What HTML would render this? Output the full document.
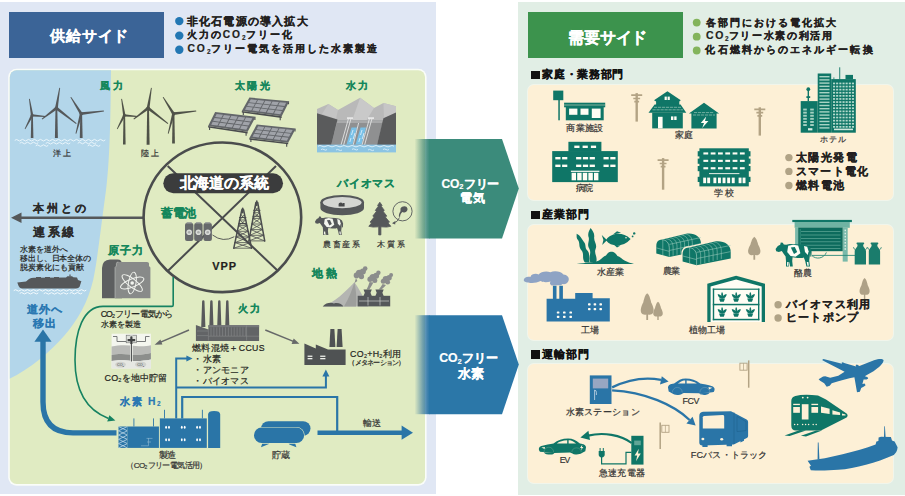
<!DOCTYPE html>
<html lang="ja">
<head>
<meta charset="utf-8">
<title>北海道の系統 供給サイド・需要サイド</title>
<style>
html,body{margin:0;padding:0;}
body{width:905px;height:496px;position:relative;overflow:hidden;background:#fff;font-family:"Liberation Sans",sans-serif;color:#231f20;}
.abs{position:absolute;}
#supplyOuter{left:0;top:2px;width:435.5px;height:491.5px;background:#e0e7f4;}
#demandOuter{left:518px;top:2px;width:387px;height:492.5px;background:#e1eee5;}
#supplyHead{left:8.5px;top:12px;width:155.5px;height:46.4px;background:#3b6497;}
#demandHead{left:528.3px;top:12px;width:155.2px;height:46.2px;background:#3c934d;}
.cream{left:528.4px;width:365px;background:#fdf0d6;border-radius:6px;box-shadow:0 0 0 1px rgba(255,252,240,0.55);}
.sq{position:absolute;left:530.9px;width:8.8px;height:8.8px;background:#111;}
.t{position:absolute;white-space:nowrap;margin:0;padding:0;}
.s2{font-size:0.62em;-webkit-text-stroke-width:0.15px;position:relative;top:0.18em;letter-spacing:0;margin-right:0.04em;}
svg{position:absolute;left:0;top:0;}
</style>
</head>
<body>
<div class="abs" id="supplyOuter"></div>
<div class="abs" id="demandOuter"></div>
<div class="abs" id="supplyHead"></div>
<div class="abs" id="demandHead"></div>
<div class="abs cream" style="top:85.4px;height:114.5px;"></div>
<div class="abs cream" style="top:225.3px;height:114.5px;"></div>
<div class="abs cream" style="top:363.8px;height:119px;"></div>
<div class="sq" style="top:70.5px;"></div>
<div class="sq" style="top:210.5px;"></div>
<div class="sq" style="top:350px;"></div>
<svg id="art" width="905" height="496" viewBox="0 0 905 496">
<defs>
<clipPath id="landClip"><rect x="9.8" y="70.3" width="415.2" height="413.8" rx="6.8" ry="6.8"/></clipPath>
<linearGradient id="shG" x1="0" x2="1" y1="0" y2="0"><stop offset="0" stop-color="#3f8575" stop-opacity="0"/><stop offset="0.55" stop-color="#3a8374" stop-opacity="0.6"/><stop offset="1" stop-color="#3b8b7b" stop-opacity="1"/></linearGradient>
<linearGradient id="shB" x1="0" x2="1" y1="0" y2="0"><stop offset="0" stop-color="#2c6f9c" stop-opacity="0"/><stop offset="0.55" stop-color="#296f9d" stop-opacity="0.6"/><stop offset="1" stop-color="#2b77a8" stop-opacity="1"/></linearGradient>
</defs>
<rect x="8.2" y="68.7" width="418.4" height="417" rx="8.4" ry="8.4" fill="#fafdf9"/>
<g clip-path="url(#landClip)">
<rect x="9" y="69" width="418" height="417" fill="#e0ebc2"/>
<path d="M9,69 H111 C110.5,120 110,170 104,205 C100,235 97,262 93.2,280 C88,302 78,320 64,336 C50,352 30,369 9,379 Z" fill="#b3d6ea"/>
</g>
<g id="wind-off"><polygon points="31.3,115.4 30.8,138.0 33.4,138.0 32.9,115.4" fill="#55585a"/><polygon points="33.3,115.2 29.8,98.8 29.0,99.0 30.9,115.6" fill="#55585a"/><polygon points="32.0,116.6 45.4,116.9 45.4,116.1 32.2,114.2" fill="#55585a"/><polygon points="31.0,114.8 24.7,128.8 25.3,129.2 33.2,116.0" fill="#55585a"/><circle cx="32.1" cy="115.4" r="1.4" fill="#55585a"/><polygon points="55.5,108.1 54.9,138.0 57.9,138.0 57.3,108.1" fill="#55585a"/><polygon points="57.8,108.3 60.1,87.9 59.3,87.7 55.0,107.9" fill="#55585a"/><polygon points="55.5,109.2 76.0,124.0 76.6,123.2 57.3,107.0" fill="#55585a"/><polygon points="55.5,107.0 41.7,118.8 42.3,119.6 57.3,109.2" fill="#55585a"/><circle cx="56.4" cy="108.1" r="1.7" fill="#55585a"/><polygon points="80.3,113.7 79.8,138.0 82.6,138.0 82.1,113.7" fill="#55585a"/><polygon points="82.4,113.0 71.2,96.9 70.4,97.3 80.0,114.4" fill="#55585a"/><polygon points="81.4,115.1 104.0,111.4 103.8,110.6 81.0,112.3" fill="#55585a"/><polygon points="79.9,113.3 75.5,133.5 76.3,133.7 82.5,114.1" fill="#55585a"/><circle cx="81.2" cy="113.7" r="1.6" fill="#55585a"/></g><g fill="none" stroke="#eef7fc" stroke-width="0.9" stroke-linecap="round"><path d="M15.0,140.2 q1.5,-1.6 3,0 t3,0 q1.5,-1.6 3,0 t3,0 q1.5,-1.6 3,0 t3,0 q1.5,-1.6 3,0 t3,0 q1.5,-1.6 3,0 t3,0 q1.5,-1.6 3,0 t3,0 q1.5,-1.6 3,0 t3,0 q1.5,-1.6 3,0 t3,0 q1.5,-1.6 3,0 t3,0 q1.5,-1.6 3,0 t3,0 q1.5,-1.6 3,0 t3,0 q1.5,-1.6 3,0 t3,0 q1.5,-1.6 3,0 t3,0 q1.5,-1.6 3,0 t3,0 q1.5,-1.6 3,0 t3,0"/><path d="M20.0,143.0 q1.5,-1.6 3,0 t3,0 q1.5,-1.6 3,0 t3,0 q1.5,-1.6 3,0 t3,0"/><path d="M46.0,143.2 q1.5,-1.6 3,0 t3,0 q1.5,-1.6 3,0 t3,0 q1.5,-1.6 3,0 t3,0 q1.5,-1.6 3,0 t3,0"/><path d="M78.0,143.0 q1.5,-1.6 3,0 t3,0 q1.5,-1.6 3,0 t3,0 q1.5,-1.6 3,0 t3,0"/><path d="M36.0,145.6 q1.5,-1.6 3,0 t3,0 q1.5,-1.6 3,0 t3,0"/><path d="M88.0,145.6 q1.5,-1.6 3,0 t3,0 q1.5,-1.6 3,0 t3,0"/></g><g id="wind-on"><polygon points="123.5,115.4 123.0,144.6 125.6,144.6 125.1,115.4" fill="#4f5248"/><polygon points="125.5,115.2 122.0,98.8 121.2,99.0 123.1,115.6" fill="#4f5248"/><polygon points="124.2,116.6 137.6,116.9 137.6,116.1 124.4,114.2" fill="#4f5248"/><polygon points="123.2,114.8 116.9,128.8 117.5,129.2 125.4,116.0" fill="#4f5248"/><circle cx="124.3" cy="115.4" r="1.4" fill="#4f5248"/><polygon points="147.2,108.1 146.6,144.8 149.6,144.8 149.0,108.1" fill="#4f5248"/><polygon points="149.5,108.3 151.8,87.9 151.0,87.7 146.7,107.9" fill="#4f5248"/><polygon points="147.2,109.2 167.7,124.0 168.3,123.2 149.0,107.0" fill="#4f5248"/><polygon points="147.2,107.0 133.4,118.8 134.0,119.6 149.0,109.2" fill="#4f5248"/><circle cx="148.1" cy="108.1" r="1.7" fill="#4f5248"/><polygon points="172.6,113.7 172.1,143.6 174.9,143.6 174.4,113.7" fill="#4f5248"/><polygon points="174.7,113.0 163.5,96.9 162.7,97.3 172.3,114.4" fill="#4f5248"/><polygon points="173.7,115.1 196.3,111.4 196.1,110.6 173.3,112.3" fill="#4f5248"/><polygon points="172.2,113.3 167.8,133.5 168.6,133.7 174.8,114.1" fill="#4f5248"/><circle cx="173.5" cy="113.7" r="1.6" fill="#4f5248"/></g><g id="solar"><polygon points="241.8,111.0 281.7,116.3 281.7,117.9 241.8,112.6" fill="#4a4c4e"/><path d="M243.3,112.0 v3 M280.2,117.3 v3 M288.5,101.7 v2.6" stroke="#4a4c4e" stroke-width="1.1"/><polygon points="249.4,97.5 289.3,101.2 281.7,116.3 241.8,111.0" fill="#63666a"/><polygon points="250.8,99.3 257.1,100.0 255.4,102.9 249.1,102.2" fill="#a0a3a9"/><polygon points="248.7,103.1 255.0,103.7 253.4,106.7 247.1,106.0" fill="#a0a3a9"/><polygon points="246.6,106.8 252.9,107.5 251.3,110.5 245.0,109.7" fill="#a0a3a9"/><polygon points="258.0,100.1 264.3,100.7 262.7,103.7 256.4,103.0" fill="#a0a3a9"/><polygon points="255.9,103.8 262.3,104.5 260.6,107.5 254.3,106.8" fill="#a0a3a9"/><polygon points="253.9,107.6 260.2,108.4 258.6,111.4 252.2,110.6" fill="#a0a3a9"/><polygon points="265.3,100.8 271.6,101.4 270.0,104.5 263.7,103.8" fill="#a0a3a9"/><polygon points="263.2,104.6 269.5,105.3 267.9,108.4 261.6,107.7" fill="#a0a3a9"/><polygon points="261.1,108.5 267.4,109.3 265.8,112.3 259.5,111.5" fill="#a0a3a9"/><polygon points="272.5,101.5 278.9,102.1 277.2,105.2 270.9,104.6" fill="#a0a3a9"/><polygon points="270.5,105.4 276.8,106.1 275.2,109.2 268.8,108.5" fill="#a0a3a9"/><polygon points="268.4,109.4 274.7,110.1 273.1,113.3 266.8,112.5" fill="#a0a3a9"/><polygon points="279.8,102.2 286.1,102.8 284.5,106.0 278.2,105.3" fill="#a0a3a9"/><polygon points="277.7,106.2 284.0,106.9 282.4,110.1 276.1,109.4" fill="#a0a3a9"/><polygon points="275.7,110.2 282.0,111.0 280.3,114.2 274.0,113.4" fill="#a0a3a9"/><polygon points="208.1,126.0 247.6,131.8 247.6,133.4 208.1,127.6" fill="#4a4c4e"/><path d="M209.6,127.0 v3 M246.1,132.8 v3 M254.9,117.3 v2.6" stroke="#4a4c4e" stroke-width="1.1"/><polygon points="215.1,112.1 255.7,116.8 247.6,131.8 208.1,126.0" fill="#63666a"/><polygon points="216.6,114.0 223.0,114.8 221.4,117.8 215.1,117.0" fill="#a0a3a9"/><polygon points="214.6,117.9 221.0,118.7 219.4,121.7 213.1,120.8" fill="#a0a3a9"/><polygon points="212.7,121.7 219.0,122.5 217.5,125.6 211.2,124.7" fill="#a0a3a9"/><polygon points="223.9,114.9 230.3,115.7 228.7,118.7 222.4,117.9" fill="#a0a3a9"/><polygon points="221.9,118.8 228.3,119.6 226.7,122.7 220.4,121.8" fill="#a0a3a9"/><polygon points="220.0,122.7 226.3,123.5 224.7,126.6 218.4,125.7" fill="#a0a3a9"/><polygon points="231.3,115.8 237.7,116.6 236.1,119.7 229.7,118.9" fill="#a0a3a9"/><polygon points="229.3,119.7 235.6,120.5 234.0,123.6 227.7,122.8" fill="#a0a3a9"/><polygon points="227.2,123.7 233.5,124.5 231.9,127.6 225.6,126.7" fill="#a0a3a9"/><polygon points="238.7,116.7 245.1,117.4 243.4,120.6 237.0,119.8" fill="#a0a3a9"/><polygon points="236.6,120.7 242.9,121.5 241.2,124.6 234.9,123.8" fill="#a0a3a9"/><polygon points="234.5,124.6 240.8,125.5 239.1,128.6 232.8,127.7" fill="#a0a3a9"/><polygon points="246.0,117.6 252.4,118.3 250.7,121.5 244.3,120.7" fill="#a0a3a9"/><polygon points="243.9,121.6 250.2,122.4 248.5,125.6 242.2,124.7" fill="#a0a3a9"/><polygon points="241.7,125.6 248.0,126.5 246.3,129.7 240.1,128.8" fill="#a0a3a9"/><polygon points="249.4,138.1 288.2,142.7 288.2,144.3 249.4,139.7" fill="#4a4c4e"/><path d="M250.9,139.1 v3 M286.7,143.7 v3 M295.0,128.9 v2.6" stroke="#4a4c4e" stroke-width="1.1"/><polygon points="256.8,124.4 295.8,128.4 288.2,142.7 249.4,138.1" fill="#63666a"/><polygon points="258.1,126.3 264.3,126.9 262.7,129.9 256.6,129.2" fill="#a0a3a9"/><polygon points="256.1,130.0 262.3,130.7 260.7,133.6 254.5,133.0" fill="#a0a3a9"/><polygon points="254.1,133.8 260.2,134.5 258.6,137.4 252.5,136.7" fill="#a0a3a9"/><polygon points="265.2,127.0 271.4,127.7 269.8,130.6 263.6,130.0" fill="#a0a3a9"/><polygon points="263.2,130.8 269.3,131.5 267.7,134.4 261.6,133.8" fill="#a0a3a9"/><polygon points="261.2,134.6 267.3,135.3 265.7,138.3 259.6,137.5" fill="#a0a3a9"/><polygon points="272.3,127.8 278.5,128.4 276.9,131.4 270.7,130.7" fill="#a0a3a9"/><polygon points="270.3,131.6 276.4,132.2 274.8,135.2 268.7,134.5" fill="#a0a3a9"/><polygon points="268.2,135.4 274.4,136.1 272.8,139.1 266.6,138.4" fill="#a0a3a9"/><polygon points="279.4,128.5 285.6,129.1 284.0,132.2 277.8,131.5" fill="#a0a3a9"/><polygon points="277.4,132.3 283.5,133.0 281.9,136.0 275.8,135.3" fill="#a0a3a9"/><polygon points="275.3,136.2 281.4,136.9 279.8,139.9 273.7,139.2" fill="#a0a3a9"/><polygon points="286.5,129.2 292.7,129.9 291.0,132.9 284.9,132.3" fill="#a0a3a9"/><polygon points="284.4,133.1 290.6,133.8 289.0,136.8 282.8,136.1" fill="#a0a3a9"/><polygon points="282.4,137.0 288.5,137.7 286.9,140.7 280.8,140.0" fill="#a0a3a9"/></g><g id="dam"><polygon points="317,109 328.4,104.1 338,110 360.1,97.8 374,108 383.4,103.1 396,106.2 396,146 317,146" fill="#b9b9b9"/><polygon points="360.1,97.8 374,108 366,121 352,121" fill="#c9c9c9"/><polygon points="383.4,103.1 396,106.2 396,113 384,118" fill="#c6c6c6"/><polygon points="328.4,104.1 338,110 336,119 322,114" fill="#c4c4c4"/><polygon points="337.5,120.3 383.4,120.3 377,145 331.2,145" fill="#8f9091"/><polygon points="337.5,120.3 383.4,120.3 382.6,123 336.8,123" fill="#a9aaab"/><polygon points="317,113.3 337.5,119.6 331.2,145 317,145" fill="#5a5b5c"/><polygon points="396,112.6 383.4,118.2 377,145 396,145" fill="#5a5b5c"/><polygon points="351.5,127.4 357,127.4 352.5,144.5 346.5,144.5" fill="#79c0e6"/><polygon points="360.5,127.4 366,127.4 361.5,144.5 355.5,144.5" fill="#79c0e6"/><path d="M353,130 l-1.5,5 M355,133 l-1.8,6 M362,130 l-1.5,5 M364,133 l-1.8,6 M351,138 l-1.2,4 M360,138 l-1.2,4" stroke="#d8eefa" stroke-width="0.9" fill="none"/><path d="M348.5,118.5 L341,145 M351,118.5 L343.6,145 M369.5,118.5 L362,145 M372,118.5 L364.6,145 M358.6,123 L353.2,145" stroke="#e3e4e4" stroke-width="0.9" fill="none"/><rect x="347" y="117.3" width="6" height="1.6" fill="#ececec"/><rect x="368" y="117.3" width="6" height="1.6" fill="#ececec"/><rect x="317" y="144.6" width="79" height="7.8" fill="#8cc4e3"/><path d="M318,146.2 q2,-1.4 4,0 t4,0 t4,0 t4,0 t4,0 t4,0 t4,0 t4,0 t4,0 t4,0 t4,0 t4,0 t4,0 t4,0 t4,0 t4,0 t4,0 t4,0 t4,0" stroke="#d9eef9" stroke-width="1" fill="none"/><path d="M321,149.6 q1.5,-1.2 3,0 t3,0 M336,150 q1.5,-1.2 3,0 t3,0 M352,149.4 q1.5,-1.2 3,0 t3,0 M368,150 q1.5,-1.2 3,0 t3,0 M383,149.5 q1.5,-1.2 3,0 t3,0" stroke="#d9eef9" stroke-width="0.9" fill="none"/></g><g id="grid"><path d="M20,217.8 H143.5" stroke="#55585a" stroke-width="2.6" fill="none"/><polygon points="11,217.8 21.5,212.6 21.5,223" fill="#55585a"/><ellipse cx="222.4" cy="217.3" rx="78.8" ry="74.8" fill="none" stroke="#4a4c4d" stroke-width="2.6"/><path d="M167.7,166 L278,271 M276,166 L167.8,271" stroke="#4a4c4d" stroke-width="2" fill="none" stroke-linecap="butt"/><rect x="163.3" y="173.3" width="119.7" height="20" rx="10" fill="#3b3c3d"/><rect x="185.0" y="223.0" width="8.4" height="17.9" rx="2" fill="#66696b"/><rect x="186.4" y="222.2" width="5.6" height="1.6" rx="0.8" fill="#8b8e90"/><circle cx="189.2" cy="232.3" r="2.8" fill="#d9dcd8"/><circle cx="189.2" cy="232.3" r="1.3" fill="#a9acaa"/><rect x="194.2" y="223.0" width="8.4" height="17.9" rx="2" fill="#66696b"/><rect x="195.7" y="222.2" width="5.6" height="1.6" rx="0.8" fill="#8b8e90"/><circle cx="198.4" cy="232.3" r="2.8" fill="#d9dcd8"/><circle cx="198.4" cy="232.3" r="1.3" fill="#a9acaa"/><rect x="203.5" y="223.0" width="8.4" height="17.9" rx="2" fill="#66696b"/><rect x="204.9" y="222.2" width="5.6" height="1.6" rx="0.8" fill="#8b8e90"/><circle cx="207.7" cy="232.3" r="2.8" fill="#d9dcd8"/><circle cx="207.7" cy="232.3" r="1.3" fill="#a9acaa"/><path d="M212.5,235 Q223,243 234.3,236.7" stroke="#4b4d4e" stroke-width="0.9" fill="none"/><g stroke="#4b4d4e" fill="none" stroke-linecap="round"><path d="M255.9,202.5 L248.9,240.9 M257.7,202.5 L264.7,240.9" stroke-width="1.5"/><path d="M255.1,207.1 L259.6,212.7 M258.5,207.1 L254.0,212.7 M254.0,212.7 H259.6 M254.0,212.7 L260.6,218.4 M259.6,212.7 L253.0,218.4 M253.0,218.4 H260.6 M253.0,218.4 L261.6,224.0 M260.6,218.4 L252.0,224.0 M252.0,224.0 H261.6 M252.0,224.0 L262.6,229.6 M261.6,224.0 L251.0,229.6 M251.0,229.6 H262.6 M251.0,229.6 L263.7,235.3 M262.6,229.6 L249.9,235.3 M249.9,235.3 H263.7 M249.9,235.3 L264.7,240.9 M263.7,235.3 L248.9,240.9 M248.9,240.9 H264.7 " stroke-width="0.8"/><path d="M253.6,210.2 H260.0 M253.0,216.3 H260.6" stroke-width="1.1"/><path d="M256.8,201.0 V205.5" stroke-width="1.6"/></g><g stroke="#4b4d4e" fill="none" stroke-linecap="round"><path d="M241.8,209.8 L233.8,248.2 M243.6,209.8 L251.6,248.2" stroke-width="1.5"/><path d="M240.8,214.4 L245.7,220.0 M244.6,214.4 L239.7,220.0 M239.7,220.0 H245.7 M239.7,220.0 L246.9,225.7 M245.7,220.0 L238.5,225.7 M238.5,225.7 H246.9 M238.5,225.7 L248.1,231.3 M246.9,225.7 L237.3,231.3 M237.3,231.3 H248.1 M237.3,231.3 L249.3,236.9 M248.1,231.3 L236.1,236.9 M236.1,236.9 H249.3 M236.1,236.9 L250.4,242.6 M249.3,236.9 L235.0,242.6 M235.0,242.6 H250.4 M235.0,242.6 L251.6,248.2 M250.4,242.6 L233.8,248.2 M233.8,248.2 H251.6 " stroke-width="0.8"/><path d="M239.5,217.5 H245.9 M238.9,223.6 H246.5" stroke-width="1.1"/><path d="M242.7,208.3 V212.8" stroke-width="1.6"/></g></g><g id="biomass"><path d="M320.4,202.2 V208 A21.8,7.3 0 0 0 364,208 V202.2 Z" fill="#55585a"/><ellipse cx="342.2" cy="202.2" rx="21.8" ry="7.3" fill="#55585a"/><ellipse cx="342.2" cy="202.6" rx="19.4" ry="5.6" fill="#d4d6d2"/><path d="M338.6,206.6 v-2.6 a2.2,1.6 0 0 1 4.4,0 v-1 h1.6 v3.4 Z" fill="#47494a"/><g><polygon points="315.0,221.5 316.7,219.1 318.6,218.1 319.1,216.4 320.6,216.6 321.4,218.0 323.2,218.1 325.9,217.5 335.3,217.9 339.6,218.7 342.0,220.5 343.1,223.4 342.9,227.3 342.1,227.5 341.8,223.8 341.7,226.9 341.2,230.4 341.8,235.1 339.0,235.1 338.1,230.9 337.0,228.1 335.9,228.4 332.2,228.6 328.3,227.9 327.9,230.8 328.4,235.1 326.2,235.1 325.8,231.2 325.3,235.1 323.1,235.1 323.1,230.8 322.8,227.3 321.2,225.1 319.8,223.0 317.5,223.7 315.5,223.3" fill="#55585a"/><polygon points="324.8,218.9 328.6,218.1 332.6,218.7 334.3,224.8 330.6,227.5 326.7,227.0 324.0,223.7" fill="#f3f5ee"/><polygon points="326.9,220.3 330.0,220.0 331.8,223.9 329.4,225.4" fill="#55585a"/><polygon points="337.2,219.1 339.6,219.7 340.7,223.3 340.1,226.1 337.9,223.7" fill="#f3f5ee"/><polygon points="324.0,231.6 325.1,231.6 325.0,234.5 323.9,234.5" fill="#f3f5ee"/><polygon points="339.3,231.6 340.6,231.6 340.9,234.5 339.8,234.5" fill="#f3f5ee"/></g><polygon points="379.8,202.2 382.1,205.4 381.3,206.2 384.3,210.4 383.2,211.4 386.8,216.1 385.4,217.1 389.5,222.1 388.1,223.1 390.8,226.3 386.6,227.1 380.9,226.8 380.9,234.9 378.7,234.9 378.7,226.8 373.1,227.1 368.8,226.3 371.5,223.1 370.1,222.1 374.2,217.1 372.8,216.1 376.4,211.4 375.3,210.4 378.3,206.2 377.6,205.4" fill="#55585a" stroke="#55585a" stroke-width="0.8" stroke-linejoin="round"/><circle cx="402.5" cy="211.3" r="9.6" fill="none" stroke="#55585a" stroke-width="0.9"/><path d="M400.5,208.5 c1.5,-3 6.5,-3.2 7,0.2 c0.4,3 -3.2,4.4 -5.2,3.4 c-1.2,1.6 -2.2,2.4 -2.2,4.6 l-1.2,0 c-0.2,-2.6 0.8,-4 1.6,-5.4 Z" fill="#55585a"/><path d="M399.5,217.5 q-2,5 -6,5.5" stroke="#55585a" stroke-width="0.9" fill="none"/><polygon points="392,223.2 395.4,221 395.2,224.6" fill="#55585a"/></g><g id="geo"><path d="M322.7,306.4 C335,302 345,292 354.4,282.2 C358,287 363,296 368,306.4 Z" fill="#b4b5b2"/><path d="M354.4,282.2 C352,290 349,298 344,306.4 L356,306.4 C357,298 356,290 354.4,282.2 Z" fill="#9d9e9c"/><path d="M322.7,306.4 C326,302.5 331,302 334,303.4 C338,302 342,304 343.5,306.4 Z" fill="#55585a"/><circle cx="359.5" cy="273.5" r="3.8" fill="#8b8d8c"/><circle cx="362.9" cy="271.6" r="3.0" fill="#8b8d8c"/><circle cx="356.5" cy="275.4" r="2.8" fill="#8b8d8c"/><circle cx="361.4" cy="276.5" r="2.7" fill="#8b8d8c"/><circle cx="365.2" cy="268.6" r="2.3" fill="#8b8d8c"/><circle cx="373.0" cy="277.5" r="3.6" fill="#8b8d8c"/><circle cx="376.2" cy="275.7" r="2.9" fill="#8b8d8c"/><circle cx="370.1" cy="279.3" r="2.7" fill="#8b8d8c"/><circle cx="374.8" cy="280.4" r="2.5" fill="#8b8d8c"/><circle cx="378.4" cy="272.8" r="2.2" fill="#8b8d8c"/><circle cx="386.0" cy="279.5" r="3.4" fill="#8b8d8c"/><circle cx="389.1" cy="277.8" r="2.7" fill="#8b8d8c"/><circle cx="383.3" cy="281.2" r="2.5" fill="#8b8d8c"/><circle cx="387.7" cy="282.2" r="2.4" fill="#8b8d8c"/><circle cx="391.1" cy="275.1" r="2.0" fill="#8b8d8c"/><path d="M356,278 Q355,281 354.6,283 L357.4,281 Z M369.6,282 Q368.4,286 366.6,289.5 H369.4 Q371.6,286 373.4,282.6 Z M382.6,284 Q381,287 378.6,289.5 H381.4 Q384,287.6 386,285 Z" fill="#8b8d8c"/><rect x="357.7" y="295.8" width="32.5" height="10.6" fill="#55585a"/><path d="M363.5,289.5 h8.3 l-1.3,3.2 l1.3,3.3 h-8.3 l1.3,-3.3 Z" fill="#55585a"/><path d="M375.4,289.5 h8.3 l-1.3,3.2 l1.3,3.3 h-8.3 l1.3,-3.3 Z" fill="#55585a"/><path d="M359,301 H389 M368,297 V305.5 M380,297 V305.5" stroke="#c9cbc8" stroke-width="0.7" fill="none"/></g><g id="nuclear"><path d="M102,298.3 V268 Q102.4,260 110,259.6 H117.5 Q122,259.6 122,264.5 V298.3 Z" fill="#5d5f60"/><path d="M115,298.3 V267.5 L116.4,266 V263.6 Q116.4,262 118.4,262 H147 Q149,262 149,263.6 V266 L150.4,267.5 V298.3 Z" fill="#888a89"/><path d="M115,298 V267.5 L116.4,266 V263.6 Q116.4,262 118.4,262" fill="none" stroke="#c5c7c2" stroke-width="0.6"/><g fill="none" stroke="#f2f4ef" stroke-width="0.95"><ellipse cx="132.2" cy="283" rx="12.5" ry="4.1" transform="rotate(-22 132.2 283)"/><ellipse cx="132.2" cy="283" rx="12.5" ry="4.1" transform="rotate(38 132.2 283)"/><ellipse cx="132.2" cy="283" rx="11" ry="3.8" transform="rotate(-80 132.2 283)"/></g><circle cx="132.2" cy="283" r="1.8" fill="#f2f4ef"/></g><g id="shipL"><path d="M17.3,282.4 L26,281.6 L29,279 Q31,277.8 34,277.8 L66,277.6 L67.4,276.2 L72,276.2 L73.4,277.2 L77,277.6 L78,280 L81.4,281.2 L79.6,286.8 Q78.6,288.4 76,288.4 H22 Q19.4,288.4 18.6,286 Z" fill="#55585a"/><path d="M36,278 v-1 h5 v1 M45,278 v-1 h5 v1 M54,278 v-1 h5 v1 M69.4,276.4 v-1.8 h1.2 v1.8" fill="#55585a"/><g fill="none" stroke="#f4fafd" stroke-width="1" stroke-linecap="round"><path d="M14.0,290.4 q1.5,-1.5 3,0 t3,0 q1.5,-1.5 3,0 t3,0 q1.5,-1.5 3,0 t3,0 q1.5,-1.5 3,0 t3,0 q1.5,-1.5 3,0 t3,0 q1.5,-1.5 3,0 t3,0 q1.5,-1.5 3,0 t3,0 q1.5,-1.5 3,0 t3,0 q1.5,-1.5 3,0 t3,0 q1.5,-1.5 3,0 t3,0 q1.5,-1.5 3,0 t3,0 q1.5,-1.5 3,0 t3,0"/><path d="M20.0,293.2 q1.5,-1.5 3,0 t3,0 q1.5,-1.5 3,0 t3,0 q1.5,-1.5 3,0 t3,0"/><path d="M44.0,293.4 q1.5,-1.5 3,0 t3,0 q1.5,-1.5 3,0 t3,0 q1.5,-1.5 3,0 t3,0 q1.5,-1.5 3,0 t3,0"/><path d="M70.0,293.2 q1.5,-1.5 3,0 t3,0 q1.5,-1.5 3,0 t3,0"/></g></g><g id="thermal"><path d="M202.1,301.6 Q202.1,300.3 203.3,300.3 Q204.5,300.3 204.5,301.6 L205.4,327 H201.2 Z" fill="#58595b"/><path d="M210.2,301.6 Q210.2,300.3 211.4,300.3 Q212.6,300.3 212.6,301.6 L213.5,327 H209.3 Z" fill="#58595b"/><path d="M218.1,301.6 Q218.1,300.3 219.3,300.3 Q220.5,300.3 220.5,301.6 L221.4,327 H217.2 Z" fill="#58595b"/><path d="M226.1,301.6 Q226.1,300.3 227.3,300.3 Q228.5,300.3 228.5,301.6 L229.4,327 H225.2 Z" fill="#58595b"/><path d="M195.9,340.9 V324.9 L208.4,329.6 V325.2 H259.1 V340.9 Z" fill="#626466"/><rect x="208.4" y="325.2" width="50.7" height="2" fill="#75777a"/><path d="M211.0,327.4 V336 M213.9,327.4 V336 M216.8,327.4 V336 M219.7,327.4 V336 M222.6,327.4 V336 M225.5,327.4 V336 M228.4,327.4 V336 M231.3,327.4 V336 M234.2,327.4 V336 M237.1,327.4 V336 M240.0,327.4 V336 M242.9,327.4 V336 M245.8,327.4 V336 " stroke="#8e9091" stroke-width="0.55" fill="none"/><path d="M208.4,329.6 V340.6 M246.6,325.4 V340.6 M208.4,336.2 H259 M197,331 H208 M197,335.6 H208" stroke="#8e9091" stroke-width="0.5" fill="none"/></g><g id="co2"><rect x="111.6" y="333.7" width="39.3" height="34.7" fill="#f4f6ef"/><path d="M111.6,346.5 C120,344.5 128,345 136,346 C142,346.8 147,346 150.9,345.2 V353 C144,354.5 138,355.5 130,354.5 C122,353.5 116,354 111.6,355 Z" fill="#b9bab7"/><path d="M111.6,355 C116,354 122,353.5 130,354.5 C138,355.5 144,354.5 150.9,353 V359.5 C144,361 136,361.5 128,360.5 C121,359.8 116,360.2 111.6,361 Z" fill="#8c8e8c"/><path d="M111.6,361 C116,360.2 121,359.8 128,360.5 C136,361.5 144,361 150.9,359.5 V368.4 H111.6 Z" fill="#e6e8e3"/><ellipse cx="120.5" cy="364.6" rx="5.4" ry="2.9" fill="#cfd1cd"/><ellipse cx="140.6" cy="364.4" rx="5.6" ry="3" fill="#cfd1cd"/><path d="M113,336.5 H117 V341.5 H127 M149.5,336.5 H145.5 V341.5 H136" stroke="#6a6c6c" stroke-width="0.9" fill="none"/><rect x="126.2" y="335.2" width="10.4" height="7.6" fill="#dfe1dc" stroke="#6a6c6c" stroke-width="0.6"/><path d="M131.4,335.5 V362" stroke="#f4f6ef" stroke-width="2.6"/><path d="M131.4,336.5 V361.5" stroke="#4a4c4d" stroke-width="1.1"/><path d="M127.6,340.2 H135.2 M131.4,336.6 V344" stroke="#3f4142" stroke-width="2.2"/><text x="120.5" y="365.9" font-family="Liberation Sans, sans-serif" font-size="3.7" text-anchor="middle" fill="#3c3e3f">CO<tspan font-size="2.4" dy="0.6">2</tspan></text><text x="140.6" y="365.9" font-family="Liberation Sans, sans-serif" font-size="3.7" text-anchor="middle" fill="#3c3e3f">CO<tspan font-size="2.4" dy="0.6">2</tspan></text></g><g id="methf"><path d="M304.4,365 V343.6 L315.8,348.6 V344.4 L328,349.6 H345.6 V365 Z" fill="#4f5253"/><polygon points="330.4,329.1 334.4,329.1 335.4,347 329.4,347" fill="#4f5253"/><polygon points="337.6,329.1 341.6,329.1 342.6,347 336.6,347" fill="#4f5253"/><rect x="307.6" y="355.6" width="4.8" height="1.3" fill="#eef0ea"/><rect x="307.6" y="358" width="4.8" height="1.3" fill="#eef0ea"/><rect x="320.2" y="355.6" width="5.2" height="1.3" fill="#eef0ea"/><rect x="320.2" y="358" width="5.2" height="1.3" fill="#eef0ea"/></g><g id="tanks"><rect x="261.1" y="421.2" width="49.4" height="14.8" rx="7.4" fill="#2a75a7"/><path d="M261,447.3 L263,441 H270 L268.9,444 Z M296.4,447.3 L294.4,441 H287.4 L289.3,444.5 Z" fill="#2a75a7"/><rect x="253.4" y="427" width="51.3" height="16.7" rx="8.3" fill="#dfeac3"/><rect x="254" y="427.6" width="50.1" height="15.5" rx="7.7" fill="#2a75a7"/></g><g id="flows"><path d="M116.5,432.9 H73 Q43,432.9 43,402 V340" stroke="#2a75a7" stroke-width="5.4" fill="none"/><polygon points="43,329.6 51.6,341.8 34.4,341.8" fill="#2a75a7"/><path d="M317.5,432.7 H403" stroke="#2a75a7" stroke-width="4.4" fill="none"/><polygon points="413,432.7 401.6,425.6 401.6,439.8" fill="#2a75a7"/><path d="M176.2,418.4 V358.6 H187" stroke="#2a75a7" stroke-width="2" fill="none"/><polygon points="192.6,358.6 186.4,355.6 186.4,361.6" fill="#2a75a7"/><path d="M176.2,387.4 H325.9 V376" stroke="#2a75a7" stroke-width="2" fill="none"/><polygon points="325.9,369.4 322.4,376.4 329.4,376.4" fill="#2a75a7"/><path d="M182.2,418.4 V397 H337.2 V432" stroke="#2a75a7" stroke-width="2.2" fill="none"/><path d="M189,330 L160,342.4" stroke="#666869" stroke-width="1.5" fill="none"/><polygon points="154.6,344.8 160.4,339.4 162.4,344.6" fill="#666869"/><path d="M265.3,330 L294,341.6" stroke="#666869" stroke-width="1.5" fill="none"/><polygon points="299.4,343.8 291.6,343.9 293.7,338.6" fill="#666869"/><path d="M173.2,277 V305 Q173.2,306.4 171.8,306.4 H103 C83,306.4 75,332 75,360 C75,394 89,411 108.5,418.4" stroke="#168261" stroke-width="1.6" fill="none"/><polygon points="115.4,420.6 107.2,421.4 109.4,415.2" fill="#168261"/></g><g id="h2plant"><rect x="118.5" y="426.5" width="8.9" height="21.4" fill="#2a75a7"/><path d="M118.5,426.5 l8.9,4.28 M127.4,426.5 l-8.9,4.28 M118.5,430.8 l8.9,4.28 M127.4,430.8 l-8.9,4.28 M118.5,435.1 l8.9,4.28 M127.4,435.1 l-8.9,4.28 M118.5,439.3 l8.9,4.28 M127.4,439.3 l-8.9,4.28 M118.5,443.6 l8.9,4.28 M127.4,443.6 l-8.9,4.28 " stroke="#cfe3ef" stroke-width="0.7" fill="none"/><rect x="127.4" y="426.5" width="31.6" height="21.4" fill="#2a75a7"/><path d="M133.9,426.5 V418.4 M153.5,426.5 V418.4 M164.5,418.4 V409.8 M202.4,418.4 V409.8" stroke="#2a75a7" stroke-width="0.9" fill="none"/><rect x="159.7" y="418.4" width="47.1" height="29.5" fill="#2a75a7"/><path d="M159.4,418.4 V447.9" stroke="#dfeac3" stroke-width="0.6"/><ellipse cx="166.1" cy="427.3" rx="0.9" ry="1.5" fill="#fff"/><ellipse cx="169.0" cy="427.3" rx="0.9" ry="1.5" fill="#fff"/><ellipse cx="166.1" cy="439.7" rx="0.9" ry="1.5" fill="#fff"/><ellipse cx="169.0" cy="439.7" rx="0.9" ry="1.5" fill="#fff"/><ellipse cx="181.8" cy="427.3" rx="0.9" ry="1.5" fill="#fff"/><ellipse cx="184.7" cy="427.3" rx="0.9" ry="1.5" fill="#fff"/><ellipse cx="181.8" cy="439.7" rx="0.9" ry="1.5" fill="#fff"/><ellipse cx="184.7" cy="439.7" rx="0.9" ry="1.5" fill="#fff"/><ellipse cx="197.1" cy="427.3" rx="0.9" ry="1.5" fill="#fff"/><ellipse cx="200.0" cy="427.3" rx="0.9" ry="1.5" fill="#fff"/><ellipse cx="197.1" cy="439.7" rx="0.9" ry="1.5" fill="#fff"/><ellipse cx="200.0" cy="439.7" rx="0.9" ry="1.5" fill="#fff"/><path d="M141,445.8 H148.5 V438 M146.5,438.4 H152.5 M147,442 H151" stroke="#8fb9d4" stroke-width="0.6" fill="none"/><path d="M208.1,447.9 V414.5 Q208.1,411.1 214.15,411.1 Q220.2,411.1 220.2,414.5 V447.9 Z" fill="#2a75a7"/></g><rect x="414.5" y="139" width="15" height="99.5" fill="url(#shG)"/>
<path d="M429,139 H502 L518.8,188.6 L502,238.5 H429 Z" fill="#3b8b7b"/>
<rect x="414.5" y="315.2" width="15" height="99" fill="url(#shB)"/>
<path d="M429,315.2 H502 L518.8,364.6 L502,414.2 H429 Z" fill="#2b77a8"/>
<g id="store"><rect x="553.2" y="90.6" width="10.1" height="9.6" fill="#0f7667"/><rect x="558.3" y="100.0" width="1.5" height="20.3" fill="#0f7667"/><rect x="564.1" y="102.7" width="41.1" height="4.6" fill="#0f7667"/><rect x="565.8" y="107.0" width="37.9" height="13.3" fill="#0f7667"/><rect x="569.1" y="108.6" width="8.3" height="6.2" fill="#fffdf4"/><rect x="580.5" y="108.6" width="8.0" height="6.2" fill="#fffdf4"/><rect x="591.8" y="108.6" width="8.8" height="9.4" fill="#fffdf4"/><path d="M564.1,105 H605.2" stroke="#fdf0d6" stroke-width="0.5"/></g><g stroke="#b3a384" fill="none"><path d="M636.7,93.1 V121.6" stroke-width="2.4"/><path d="M631.2,95.1 H642.2 M633.3,98.5 H640.1 M634.3,101.7 H639.1" stroke-width="1.7"/></g><g id="houses"><polygon points="667.4,91.3 680.8,100.2 679.3,101.5 679.3,106 656.1,106 656.1,101.5 654,100.2" fill="#0f7667"/><polygon points="654.6,104.6 680.6,104.6 686.3,112.8 648.5,112.8" fill="#0f7667"/><rect x="652.2" y="112.6" width="30.6" height="15.8" fill="#0f7667"/><rect x="664.6" y="96.6" width="2.2" height="3.4" fill="#fffdf4"/><rect x="667.6" y="96.6" width="2.2" height="3.4" fill="#fffdf4"/><rect x="658.0" y="116.8" width="4.6" height="11.6" fill="#fffdf4"/><rect x="671.0" y="116.4" width="2.4" height="3.6" fill="#fffdf4"/><rect x="674.2" y="116.4" width="2.4" height="3.6" fill="#fffdf4"/><path d="M654,107.3 H681 M652.5,109.8 H683" stroke="#7db5a6" stroke-width="0.9" stroke-dasharray="3.2 0.8" fill="none"/><polygon points="704,102.7 719.1,113.6 716.6,113.6 716.6,128.4 691.4,128.4 691.4,113.6 688.9,113.6" fill="#0f7667"/><path d="M694,112.6 H714 M693,115 H715" stroke="#7db5a6" stroke-width="0.9" stroke-dasharray="3.2 0.8" fill="none"/><polygon points="706.2,116.6 700.8,123 704,123 702.2,128 708.4,121 705,121" fill="#fffdf4"/></g><g stroke="#b3a384" fill="none"><path d="M759.8,107.3 V135.6" stroke-width="2.4"/><path d="M754.3,109.3 H765.3 M756.4,112.7 H763.2 M757.4,115.9 H762.2" stroke-width="1.7"/></g><g id="hotel"><rect x="800.7" y="101.1" width="17.0" height="31.6" fill="#0f7667"/><rect x="807.6" y="90.0" width="1.4" height="11.2" fill="#0f7667"/><rect x="806.4" y="96.2" width="3.8" height="1.8" fill="#0f7667"/><circle cx="808.3" cy="89.2" r="1.9" fill="#0f7667"/><rect x="803.2" y="108.6" width="3.6" height="1.9" fill="#a5d0c1"/><rect x="810.2" y="108.6" width="3.6" height="1.9" fill="#a5d0c1"/><rect x="803.2" y="111.7" width="3.6" height="1.9" fill="#a5d0c1"/><rect x="810.2" y="111.7" width="3.6" height="1.9" fill="#a5d0c1"/><rect x="803.2" y="114.8" width="3.6" height="1.9" fill="#a5d0c1"/><rect x="810.2" y="114.8" width="3.6" height="1.9" fill="#a5d0c1"/><rect x="803.2" y="117.9" width="3.6" height="1.9" fill="#a5d0c1"/><rect x="810.2" y="117.9" width="3.6" height="1.9" fill="#a5d0c1"/><rect x="803.2" y="121.0" width="3.6" height="1.9" fill="#a5d0c1"/><rect x="810.2" y="121.0" width="3.6" height="1.9" fill="#a5d0c1"/><rect x="803.2" y="124.1" width="3.6" height="1.9" fill="#a5d0c1"/><rect x="810.2" y="124.1" width="3.6" height="1.9" fill="#a5d0c1"/><rect x="808.0" y="128.2" width="4.4" height="2.2" fill="#d8ece2"/><rect x="817.7" y="73.5" width="13.5" height="59.2" fill="#0f7667"/><rect x="819.4" y="76.0" width="10.1" height="1.4" fill="#a8d3c4"/><rect x="819.4" y="79.2" width="10.1" height="1.4" fill="#a8d3c4"/><rect x="819.4" y="82.4" width="10.1" height="1.4" fill="#a8d3c4"/><rect x="819.4" y="85.6" width="10.1" height="1.4" fill="#a8d3c4"/><rect x="819.4" y="88.8" width="10.1" height="1.4" fill="#a8d3c4"/><rect x="819.4" y="92.0" width="10.1" height="1.4" fill="#a8d3c4"/><rect x="819.4" y="95.2" width="10.1" height="1.4" fill="#a8d3c4"/><rect x="819.4" y="98.4" width="10.1" height="1.4" fill="#a8d3c4"/><rect x="819.4" y="101.6" width="10.1" height="1.4" fill="#a8d3c4"/><rect x="819.4" y="104.8" width="10.1" height="1.4" fill="#a8d3c4"/><rect x="819.4" y="108.0" width="10.1" height="1.4" fill="#a8d3c4"/><rect x="819.4" y="111.2" width="10.1" height="1.4" fill="#a8d3c4"/><rect x="819.4" y="114.4" width="10.1" height="1.4" fill="#a8d3c4"/><rect x="819.4" y="117.6" width="10.1" height="1.4" fill="#a8d3c4"/><rect x="819.4" y="120.8" width="10.1" height="1.4" fill="#a8d3c4"/><rect x="819.4" y="124.0" width="10.1" height="1.4" fill="#a8d3c4"/><rect x="819.4" y="127.2" width="10.1" height="1.4" fill="#a8d3c4"/><rect x="831.2" y="79.1" width="24.6" height="53.6" fill="#0f7667"/><rect x="845.5" y="74.9" width="7.5" height="4.4" fill="#0f7667"/><rect x="839.3" y="67.3" width="0.9" height="12.0" fill="#0f7667"/><rect x="833.5" y="77.4" width="0.8" height="2.0" fill="#0f7667"/><rect x="833.0" y="82.6" width="2.1" height="1.7" fill="#b5dacc"/><rect x="836.1" y="82.6" width="2.1" height="1.7" fill="#b5dacc"/><rect x="839.3" y="82.6" width="2.1" height="1.7" fill="#b5dacc"/><rect x="842.5" y="82.6" width="2.1" height="1.7" fill="#b5dacc"/><rect x="845.6" y="82.6" width="2.1" height="1.7" fill="#b5dacc"/><rect x="848.8" y="82.6" width="2.1" height="1.7" fill="#b5dacc"/><rect x="851.9" y="82.6" width="2.1" height="1.7" fill="#b5dacc"/><rect x="833.0" y="85.7" width="2.1" height="1.7" fill="#b5dacc"/><rect x="836.1" y="85.7" width="2.1" height="1.7" fill="#b5dacc"/><rect x="839.3" y="85.7" width="2.1" height="1.7" fill="#b5dacc"/><rect x="842.5" y="85.7" width="2.1" height="1.7" fill="#b5dacc"/><rect x="845.6" y="85.7" width="2.1" height="1.7" fill="#b5dacc"/><rect x="848.8" y="85.7" width="2.1" height="1.7" fill="#b5dacc"/><rect x="851.9" y="85.7" width="2.1" height="1.7" fill="#b5dacc"/><rect x="833.0" y="88.8" width="2.1" height="1.7" fill="#b5dacc"/><rect x="836.1" y="88.8" width="2.1" height="1.7" fill="#b5dacc"/><rect x="839.3" y="88.8" width="2.1" height="1.7" fill="#b5dacc"/><rect x="842.5" y="88.8" width="2.1" height="1.7" fill="#b5dacc"/><rect x="845.6" y="88.8" width="2.1" height="1.7" fill="#b5dacc"/><rect x="848.8" y="88.8" width="2.1" height="1.7" fill="#b5dacc"/><rect x="851.9" y="88.8" width="2.1" height="1.7" fill="#b5dacc"/><rect x="833.0" y="91.9" width="2.1" height="1.7" fill="#b5dacc"/><rect x="836.1" y="91.9" width="2.1" height="1.7" fill="#b5dacc"/><rect x="839.3" y="91.9" width="2.1" height="1.7" fill="#b5dacc"/><rect x="842.5" y="91.9" width="2.1" height="1.7" fill="#b5dacc"/><rect x="845.6" y="91.9" width="2.1" height="1.7" fill="#b5dacc"/><rect x="848.8" y="91.9" width="2.1" height="1.7" fill="#b5dacc"/><rect x="851.9" y="91.9" width="2.1" height="1.7" fill="#b5dacc"/><rect x="833.0" y="95.0" width="2.1" height="1.7" fill="#b5dacc"/><rect x="836.1" y="95.0" width="2.1" height="1.7" fill="#b5dacc"/><rect x="839.3" y="95.0" width="2.1" height="1.7" fill="#b5dacc"/><rect x="842.5" y="95.0" width="2.1" height="1.7" fill="#b5dacc"/><rect x="845.6" y="95.0" width="2.1" height="1.7" fill="#b5dacc"/><rect x="848.8" y="95.0" width="2.1" height="1.7" fill="#b5dacc"/><rect x="851.9" y="95.0" width="2.1" height="1.7" fill="#b5dacc"/><rect x="833.0" y="98.1" width="2.1" height="1.7" fill="#b5dacc"/><rect x="836.1" y="98.1" width="2.1" height="1.7" fill="#b5dacc"/><rect x="839.3" y="98.1" width="2.1" height="1.7" fill="#b5dacc"/><rect x="842.5" y="98.1" width="2.1" height="1.7" fill="#b5dacc"/><rect x="845.6" y="98.1" width="2.1" height="1.7" fill="#b5dacc"/><rect x="848.8" y="98.1" width="2.1" height="1.7" fill="#b5dacc"/><rect x="851.9" y="98.1" width="2.1" height="1.7" fill="#b5dacc"/><rect x="833.0" y="101.2" width="2.1" height="1.7" fill="#b5dacc"/><rect x="836.1" y="101.2" width="2.1" height="1.7" fill="#b5dacc"/><rect x="839.3" y="101.2" width="2.1" height="1.7" fill="#b5dacc"/><rect x="842.5" y="101.2" width="2.1" height="1.7" fill="#b5dacc"/><rect x="845.6" y="101.2" width="2.1" height="1.7" fill="#b5dacc"/><rect x="848.8" y="101.2" width="2.1" height="1.7" fill="#b5dacc"/><rect x="851.9" y="101.2" width="2.1" height="1.7" fill="#b5dacc"/><rect x="833.0" y="104.3" width="2.1" height="1.7" fill="#b5dacc"/><rect x="836.1" y="104.3" width="2.1" height="1.7" fill="#b5dacc"/><rect x="839.3" y="104.3" width="2.1" height="1.7" fill="#b5dacc"/><rect x="842.5" y="104.3" width="2.1" height="1.7" fill="#b5dacc"/><rect x="845.6" y="104.3" width="2.1" height="1.7" fill="#b5dacc"/><rect x="848.8" y="104.3" width="2.1" height="1.7" fill="#b5dacc"/><rect x="851.9" y="104.3" width="2.1" height="1.7" fill="#b5dacc"/><rect x="833.0" y="107.4" width="2.1" height="1.7" fill="#b5dacc"/><rect x="836.1" y="107.4" width="2.1" height="1.7" fill="#b5dacc"/><rect x="839.3" y="107.4" width="2.1" height="1.7" fill="#b5dacc"/><rect x="842.5" y="107.4" width="2.1" height="1.7" fill="#b5dacc"/><rect x="845.6" y="107.4" width="2.1" height="1.7" fill="#b5dacc"/><rect x="848.8" y="107.4" width="2.1" height="1.7" fill="#b5dacc"/><rect x="851.9" y="107.4" width="2.1" height="1.7" fill="#b5dacc"/><rect x="833.0" y="110.5" width="2.1" height="1.7" fill="#b5dacc"/><rect x="836.1" y="110.5" width="2.1" height="1.7" fill="#b5dacc"/><rect x="839.3" y="110.5" width="2.1" height="1.7" fill="#b5dacc"/><rect x="842.5" y="110.5" width="2.1" height="1.7" fill="#b5dacc"/><rect x="845.6" y="110.5" width="2.1" height="1.7" fill="#b5dacc"/><rect x="848.8" y="110.5" width="2.1" height="1.7" fill="#b5dacc"/><rect x="851.9" y="110.5" width="2.1" height="1.7" fill="#b5dacc"/><rect x="833.0" y="113.6" width="2.1" height="1.7" fill="#b5dacc"/><rect x="836.1" y="113.6" width="2.1" height="1.7" fill="#b5dacc"/><rect x="839.3" y="113.6" width="2.1" height="1.7" fill="#b5dacc"/><rect x="842.5" y="113.6" width="2.1" height="1.7" fill="#b5dacc"/><rect x="845.6" y="113.6" width="2.1" height="1.7" fill="#b5dacc"/><rect x="848.8" y="113.6" width="2.1" height="1.7" fill="#b5dacc"/><rect x="851.9" y="113.6" width="2.1" height="1.7" fill="#b5dacc"/><rect x="833.0" y="116.7" width="2.1" height="1.7" fill="#b5dacc"/><rect x="836.1" y="116.7" width="2.1" height="1.7" fill="#b5dacc"/><rect x="839.3" y="116.7" width="2.1" height="1.7" fill="#b5dacc"/><rect x="842.5" y="116.7" width="2.1" height="1.7" fill="#b5dacc"/><rect x="845.6" y="116.7" width="2.1" height="1.7" fill="#b5dacc"/><rect x="848.8" y="116.7" width="2.1" height="1.7" fill="#b5dacc"/><rect x="851.9" y="116.7" width="2.1" height="1.7" fill="#b5dacc"/><rect x="833.0" y="119.8" width="2.1" height="1.7" fill="#b5dacc"/><rect x="836.1" y="119.8" width="2.1" height="1.7" fill="#b5dacc"/><rect x="839.3" y="119.8" width="2.1" height="1.7" fill="#b5dacc"/><rect x="842.5" y="119.8" width="2.1" height="1.7" fill="#b5dacc"/><rect x="845.6" y="119.8" width="2.1" height="1.7" fill="#b5dacc"/><rect x="848.8" y="119.8" width="2.1" height="1.7" fill="#b5dacc"/><rect x="851.9" y="119.8" width="2.1" height="1.7" fill="#b5dacc"/><rect x="833.0" y="122.9" width="2.1" height="1.7" fill="#b5dacc"/><rect x="836.1" y="122.9" width="2.1" height="1.7" fill="#b5dacc"/><rect x="839.3" y="122.9" width="2.1" height="1.7" fill="#b5dacc"/><rect x="842.5" y="122.9" width="2.1" height="1.7" fill="#b5dacc"/><rect x="845.6" y="122.9" width="2.1" height="1.7" fill="#b5dacc"/><rect x="848.8" y="122.9" width="2.1" height="1.7" fill="#b5dacc"/><rect x="851.9" y="122.9" width="2.1" height="1.7" fill="#b5dacc"/><rect x="833.0" y="126.0" width="2.1" height="1.7" fill="#b5dacc"/><rect x="836.1" y="126.0" width="2.1" height="1.7" fill="#b5dacc"/><rect x="839.3" y="126.0" width="2.1" height="1.7" fill="#b5dacc"/><rect x="842.5" y="126.0" width="2.1" height="1.7" fill="#b5dacc"/><rect x="845.6" y="126.0" width="2.1" height="1.7" fill="#b5dacc"/><rect x="848.8" y="126.0" width="2.1" height="1.7" fill="#b5dacc"/><rect x="851.9" y="126.0" width="2.1" height="1.7" fill="#b5dacc"/><rect x="834.0" y="128.6" width="19.0" height="1.6" fill="#cfe7dc"/></g><g id="hospital"><rect x="568.4" y="141.8" width="33.0" height="10.0" fill="#0f7667"/><rect x="552.2" y="151.1" width="65.6" height="31.0" fill="#0f7667"/><rect x="574.3" y="145.6" width="5.2" height="2.4" fill="#fffdf4"/><rect x="582.6" y="145.6" width="5.2" height="2.4" fill="#fffdf4"/><rect x="590.9" y="145.6" width="5.2" height="2.4" fill="#fffdf4"/><rect x="555.3" y="157.0" width="5.2" height="2.4" fill="#fffdf4"/><rect x="562.1" y="157.0" width="5.2" height="2.4" fill="#fffdf4"/><rect x="576.1" y="157.0" width="5.2" height="2.4" fill="#fffdf4"/><rect x="582.9" y="157.0" width="5.2" height="2.4" fill="#fffdf4"/><rect x="589.7" y="157.0" width="5.2" height="2.4" fill="#fffdf4"/><rect x="603.5" y="157.0" width="5.2" height="2.4" fill="#fffdf4"/><rect x="610.3" y="157.0" width="5.2" height="2.4" fill="#fffdf4"/><rect x="555.3" y="164.6" width="5.2" height="2.4" fill="#fffdf4"/><rect x="562.1" y="164.6" width="5.2" height="2.4" fill="#fffdf4"/><rect x="576.1" y="164.6" width="5.2" height="2.4" fill="#fffdf4"/><rect x="582.9" y="164.6" width="5.2" height="2.4" fill="#fffdf4"/><rect x="589.7" y="164.6" width="5.2" height="2.4" fill="#fffdf4"/><rect x="603.5" y="164.6" width="5.2" height="2.4" fill="#fffdf4"/><rect x="610.3" y="164.6" width="5.2" height="2.4" fill="#fffdf4"/><rect x="570.9" y="170.7" width="28.5" height="1.2" fill="#fffdf4"/><rect x="571.6" y="172.8" width="4.4" height="7.5" fill="#fffdf4"/><rect x="577.2" y="172.8" width="4.4" height="7.5" fill="#fffdf4"/><rect x="582.8" y="172.8" width="4.4" height="7.5" fill="#fffdf4"/><rect x="588.4" y="172.8" width="4.4" height="7.5" fill="#fffdf4"/><rect x="594.0" y="172.8" width="4.4" height="7.5" fill="#fffdf4"/></g><g stroke="#b3a384" fill="none"><path d="M663.1,158.1 V189.7" stroke-width="2.4"/><path d="M657.6,160.1 H668.6 M659.7,163.5 H666.5 M660.7,166.7 H665.5" stroke-width="1.7"/></g><g id="school"><rect x="699.4" y="148.3" width="49.4" height="38.1" fill="#0f7667"/><rect x="697.7" y="151.2" width="2.4" height="5.2" fill="#0f7667"/><rect x="748.1" y="151.2" width="2.4" height="5.2" fill="#0f7667"/><rect x="697.7" y="158.6" width="2.4" height="5.2" fill="#0f7667"/><rect x="748.1" y="158.6" width="2.4" height="5.2" fill="#0f7667"/><rect x="697.7" y="166.0" width="2.4" height="5.2" fill="#0f7667"/><rect x="748.1" y="166.0" width="2.4" height="5.2" fill="#0f7667"/><rect x="697.7" y="176.8" width="2.4" height="5.2" fill="#0f7667"/><rect x="748.1" y="176.8" width="2.4" height="5.2" fill="#0f7667"/><rect x="703.4" y="152.4" width="4.8" height="2.1" fill="#fffdf4"/><rect x="710.7" y="152.4" width="4.8" height="2.1" fill="#fffdf4"/><rect x="718.0" y="152.4" width="4.8" height="2.1" fill="#fffdf4"/><rect x="725.3" y="152.4" width="4.8" height="2.1" fill="#fffdf4"/><rect x="732.6" y="152.4" width="4.8" height="2.1" fill="#fffdf4"/><rect x="739.9" y="152.4" width="4.8" height="2.1" fill="#fffdf4"/><rect x="703.4" y="159.8" width="4.8" height="2.1" fill="#fffdf4"/><rect x="710.7" y="159.8" width="4.8" height="2.1" fill="#fffdf4"/><rect x="718.0" y="159.8" width="4.8" height="2.1" fill="#fffdf4"/><rect x="725.3" y="159.8" width="4.8" height="2.1" fill="#fffdf4"/><rect x="732.6" y="159.8" width="4.8" height="2.1" fill="#fffdf4"/><rect x="739.9" y="159.8" width="4.8" height="2.1" fill="#fffdf4"/><rect x="703.4" y="167.2" width="4.8" height="2.1" fill="#fffdf4"/><rect x="710.7" y="167.2" width="4.8" height="2.1" fill="#fffdf4"/><rect x="718.0" y="167.2" width="4.8" height="2.1" fill="#fffdf4"/><rect x="725.3" y="167.2" width="4.8" height="2.1" fill="#fffdf4"/><rect x="732.6" y="167.2" width="4.8" height="2.1" fill="#fffdf4"/><rect x="739.9" y="167.2" width="4.8" height="2.1" fill="#fffdf4"/><rect x="709.0" y="173.2" width="30.4" height="0.9" fill="#fffdf4"/><rect x="703.2" y="177.6" width="2.9" height="5.6" fill="#fffdf4"/><rect x="707.2" y="177.6" width="2.9" height="5.6" fill="#fffdf4"/><rect x="713.4" y="177.6" width="2.9" height="5.6" fill="#fffdf4"/><rect x="718.0" y="177.6" width="2.9" height="5.6" fill="#fffdf4"/><rect x="722.6" y="177.6" width="2.9" height="5.6" fill="#fffdf4"/><rect x="727.2" y="177.6" width="2.9" height="5.6" fill="#fffdf4"/><rect x="731.8" y="177.6" width="2.9" height="5.6" fill="#fffdf4"/><rect x="738.6" y="177.6" width="2.9" height="5.6" fill="#fffdf4"/><rect x="742.6" y="177.6" width="2.9" height="5.6" fill="#fffdf4"/></g><circle cx="788.9" cy="157.6" r="3.7" fill="#b0a386"/><circle cx="788.9" cy="171.4" r="3.7" fill="#b0a386"/><circle cx="788.9" cy="185.5" r="3.7" fill="#b0a386"/><circle cx="778.1" cy="304.7" r="3.7" fill="#b0a386"/><circle cx="778.1" cy="318.0" r="3.7" fill="#b0a386"/><circle cx="179.3" cy="21.1" r="4.2" fill="#2277b3"/><circle cx="179.3" cy="35.6" r="4.2" fill="#2277b3"/><circle cx="179.3" cy="49.8" r="4.2" fill="#2277b3"/><circle cx="696.7" cy="22.6" r="3.9" fill="#83b45c"/><circle cx="696.7" cy="36.7" r="3.9" fill="#83b45c"/><circle cx="696.7" cy="50.5" r="3.9" fill="#83b45c"/><g id="fish" fill="#0f7667"><path d="M576.6,264 C586,262.8 594,262.6 599,260.6 C602,259 603.6,256 606,255.6 C607.6,252.6 609.6,251.4 611.4,251.8 C614,251 616,253.6 617.4,256 C620,256.4 622,259.6 625,260.8 C628,262.4 631,263.2 634,264 Z"/><path d="M585,262.6 C581.4,258 584.6,254.4 581.6,250.6 C578,246.6 580.6,243 577.6,239.6 C576.2,237.6 576.8,235.6 576.6,233.8 C580.6,235.6 581.4,238.6 583.6,241.4 C586.6,244.4 584.4,247.6 587.4,250.6 C590.4,254 588.4,258 589.6,262.6 Z"/><path d="M590.4,262.6 C587.4,257 592.2,253.6 589.2,248.6 C586.4,244 590.2,240.6 588.4,236.4 C587.6,233 589.4,230.4 590.6,228 C593,231 594.6,233.6 594.2,237 C593.6,241.4 597.6,244 595.6,249 C593.6,253.6 598.2,257 596,262.6 Z"/><path d="M606.4,239.6 C610,233.6 622,230.6 630.6,239 C623,248 610.6,246.6 606.4,240.8 L602.2,245 L603.4,240 L601.8,235 Z"/><path d="M613,234.6 l4,-3.4 l4,1.6 Z M614,244.8 l3,2.8 l3.6,-2 Z"/><circle cx="632.6" cy="236.4" r="0.9"/><circle cx="634.2" cy="233.4" r="1.2"/><circle cx="626" cy="237.8" r="0.8" fill="#fdf0d6"/></g><g id="farm"><path d="M656.3,253.4 L656.3,245.9 C656.5,241.5 658.5,239.7 662.2,239.5 L687.3,233.5 C694.8,232.8 701.0,236.6 701.0,243.5 L701.0,250.5 L669.3,257.0 Z" fill="#0f7667"/><path d="M662.2,239.7 C666.0,239.9 669.1,242.5 669.3,247.9 L669.3,256.7" stroke="#9ccbbd" stroke-width="0.7" fill="none"/><path d="M666.1,238.8 C669.8,238.9 672.9,241.6 673.1,247.0 L673.1,255.7 M669.9,237.8 C673.6,238.0 676.8,240.7 677.0,246.1 L677.0,254.7 M673.7,236.9 C677.4,237.1 680.6,239.8 680.8,245.1 L680.8,253.7 M677.6,236.0 C681.3,236.2 684.4,238.8 684.6,244.2 L684.6,252.7 M681.4,235.1 C685.1,235.3 688.3,237.9 688.5,243.3 L688.5,251.8 M685.2,234.1 C688.9,234.3 692.1,237.0 692.3,242.4 L692.3,250.8 " stroke="#9ccbbd" stroke-width="0.55" fill="none"/><path d="M669.3,244.4 L700.9,237.5 M669.3,250.5 L700.9,243.6" stroke="#9ccbbd" stroke-width="0.55" fill="none"/><path d="M656.5,247.9 L669.3,251.4 M662.8,239.9 L662.8,255.2" stroke="#9ccbbd" stroke-width="0.55" fill="none"/><path d="M681.4,262.4 L681.4,253 C681.6,248 685,246.2 689,246.2 L716,240.1 C725,239.4 732,244 732,251.5 L732,259.6 L696.6,266.6 Z" fill="#fdf0d6"/><path d="M682.6,261.6 L682.6,254.0 C682.8,249.5 685.0,247.6 689.0,247.4 L716.0,241.3 C724.0,240.6 730.7,244.5 730.7,251.5 L730.7,258.6 L696.6,265.3 Z" fill="#0f7667"/><path d="M689.0,247.6 C693.0,247.8 696.4,250.5 696.6,256.0 L696.6,265.0" stroke="#9ccbbd" stroke-width="0.7" fill="none"/><path d="M693.1,246.7 C697.1,246.9 700.5,249.6 700.7,255.1 L700.7,264.0 M697.2,245.7 C701.2,245.9 704.6,248.6 704.8,254.1 L704.8,263.0 M701.4,244.8 C705.4,245.0 708.8,247.7 709.0,253.2 L709.0,262.0 M705.5,243.8 C709.5,244.0 712.9,246.7 713.1,252.2 L713.1,260.9 M709.6,242.9 C713.6,243.1 717.0,245.8 717.2,251.3 L717.2,259.9 M713.7,242.0 C717.7,242.2 721.1,244.9 721.3,250.4 L721.3,258.9 " stroke="#9ccbbd" stroke-width="0.55" fill="none"/><path d="M696.6,252.4 L730.6,245.4 M696.6,258.6 L730.6,251.6" stroke="#9ccbbd" stroke-width="0.55" fill="none"/><path d="M682.8,256.0 L696.6,259.6 M689.6,247.8 L689.6,263.4" stroke="#9ccbbd" stroke-width="0.55" fill="none"/></g><g id="factoryR"><path d="M523.8,280.6 C523.6,278 527,276.4 530.4,277 C531,274.4 535.4,273 538.6,274.4 C540.6,271.6 546.6,270.6 550.4,272.2 C554.4,270.2 561,271.2 563.4,274.4 C567,274.6 569.6,277.4 568.6,280.4 C568,283 565,284.6 562.6,284 C561.6,285.2 559.6,285.6 558,285.2 L551.6,285.4 C549.6,284.4 549.6,282.6 550.6,281.4 C547,282.6 543,282.4 540.6,281 C537,283 531,283.4 528.4,282.4 C526,282.6 524,281.8 523.8,280.6 Z" fill="#8ea3c4"/><path d="M546.6,321.4 V298.8 H552.9 V285.8 H556.5 V298.8 H559.3 V285.8 H562.9 V298.8 H575.2 V292.9 H592.6 V298.3 H609.8 V321.4 Z" fill="#2a75a7"/><rect x="588.0" y="303.2" width="2.6" height="2.2" rx="0.7" fill="#fffdf4"/><rect x="588.0" y="308.0" width="2.6" height="2.2" rx="0.7" fill="#fffdf4"/><rect x="593.6" y="303.2" width="2.6" height="2.2" rx="0.7" fill="#fffdf4"/><rect x="593.6" y="308.0" width="2.6" height="2.2" rx="0.7" fill="#fffdf4"/><rect x="599.4" y="303.2" width="2.6" height="2.2" rx="0.7" fill="#fffdf4"/><rect x="599.4" y="308.0" width="2.6" height="2.2" rx="0.7" fill="#fffdf4"/><rect x="556.8" y="311.4" width="2.6" height="2.2" rx="0.7" fill="#fffdf4"/><rect x="556.8" y="315.8" width="2.6" height="2.2" rx="0.7" fill="#fffdf4"/><rect x="563.0" y="311.4" width="2.6" height="2.2" rx="0.7" fill="#fffdf4"/><rect x="563.0" y="315.8" width="2.6" height="2.2" rx="0.7" fill="#fffdf4"/><rect x="569.4" y="311.4" width="2.6" height="2.2" rx="0.7" fill="#fffdf4"/><rect x="569.4" y="315.8" width="2.6" height="2.2" rx="0.7" fill="#fffdf4"/></g><g id="trees"><path d="M647.2,293.2 C649.6,294.9 650.0,298.6 650.9,300.9 C650.6,302.2 652.6,304.3 653.3,307.8 C654.6,312.9 651.9,315.5 648.1,314.6 L648.1,320.0 L646.3,320.0 L646.3,314.6 C642.5,315.5 639.8,312.9 641.1,307.8 C641.8,304.3 643.8,302.2 643.5,300.9 C644.4,298.6 644.8,294.9 647.2,293.2 Z" fill="#aea187"/><path d="M658.0,301.8 C659.8,303.0 660.1,305.4 660.8,307.0 C660.5,307.9 662.0,309.4 662.5,311.7 C663.5,315.2 661.5,316.9 658.7,316.4 L658.7,320.0 L657.3,320.0 L657.3,316.4 C654.5,316.9 652.5,315.2 653.5,311.7 C654.0,309.4 655.5,307.9 655.2,307.0 C655.9,305.4 656.2,303.0 658.0,301.8 Z" fill="#aea187"/><path d="M754.3,236.7 C756.6,238.2 757.0,241.3 757.9,243.3 C757.5,244.4 759.5,246.3 760.1,249.2 C761.4,253.6 758.8,255.8 755.2,255.1 L755.2,259.7 L753.4,259.7 L753.4,255.1 C749.8,255.8 747.1,253.6 748.4,249.2 C749.1,246.3 751.0,244.4 750.7,243.3 C751.6,241.3 752.0,238.2 754.3,236.7 Z" fill="#aea187"/><path d="M864.6,277.9 C866.5,279.2 866.8,282.1 867.5,283.9 C867.2,285.0 868.8,286.6 869.4,289.3 C870.4,293.4 868.3,295.4 865.3,294.7 L865.3,298.9 L863.9,298.9 L863.9,294.7 C860.9,295.4 858.8,293.4 859.8,289.3 C860.4,286.6 862.0,285.0 861.7,283.9 C862.4,282.1 862.7,279.2 864.6,277.9 Z" fill="#aea187"/></g><g id="plantf"><path d="M707.3,322 V283.7 L736.1,275.8 L765,283.7 V322 Z" fill="#0f7667"/><path d="M710.6,322 V286.4 L736.1,279.4 L761.7,286.4 V322 Z" fill="#fffdf4"/><rect x="712.8" y="288.6" width="46.6" height="1.2" fill="#0f7667"/><rect x="712.8" y="303.8" width="46.6" height="1.5" fill="#0f7667"/><rect x="712.8" y="318.8" width="46.6" height="1.5" fill="#0f7667"/><rect x="712.8" y="288.6" width="1.4" height="31.6" fill="#0f7667"/><rect x="758.0" y="288.6" width="1.4" height="31.6" fill="#0f7667"/><path d="M722.0,298.8 c-2.6,-0.4 -4,-2.4 -4.4,-4.6 c1.8,0 3,0.6 3.8,1.8 c-0.4,-1.6 0,-3 0.6,-4 c0.9,1 1.3,2.4 1,4 c0.8,-1.2 2,-1.8 3.8,-1.8 c-0.4,2.2 -1.8,4.2 -4.4,4.6 Z" fill="#0f7667"/><path d="M719.0,298.6 h6 l-1.2,3.2 h-3.6 Z" fill="#0f7667"/><path d="M722.0,313.8 c-2.6,-0.4 -4,-2.4 -4.4,-4.6 c1.8,0 3,0.6 3.8,1.8 c-0.4,-1.6 0,-3 0.6,-4 c0.9,1 1.3,2.4 1,4 c0.8,-1.2 2,-1.8 3.8,-1.8 c-0.4,2.2 -1.8,4.2 -4.4,4.6 Z" fill="#0f7667"/><path d="M719.0,313.6 h6 l-1.2,3.2 h-3.6 Z" fill="#0f7667"/><path d="M736.1,298.8 c-2.6,-0.4 -4,-2.4 -4.4,-4.6 c1.8,0 3,0.6 3.8,1.8 c-0.4,-1.6 0,-3 0.6,-4 c0.9,1 1.3,2.4 1,4 c0.8,-1.2 2,-1.8 3.8,-1.8 c-0.4,2.2 -1.8,4.2 -4.4,4.6 Z" fill="#0f7667"/><path d="M733.1,298.6 h6 l-1.2,3.2 h-3.6 Z" fill="#0f7667"/><path d="M736.1,313.8 c-2.6,-0.4 -4,-2.4 -4.4,-4.6 c1.8,0 3,0.6 3.8,1.8 c-0.4,-1.6 0,-3 0.6,-4 c0.9,1 1.3,2.4 1,4 c0.8,-1.2 2,-1.8 3.8,-1.8 c-0.4,2.2 -1.8,4.2 -4.4,4.6 Z" fill="#0f7667"/><path d="M733.1,313.6 h6 l-1.2,3.2 h-3.6 Z" fill="#0f7667"/><path d="M750.2,298.8 c-2.6,-0.4 -4,-2.4 -4.4,-4.6 c1.8,0 3,0.6 3.8,1.8 c-0.4,-1.6 0,-3 0.6,-4 c0.9,1 1.3,2.4 1,4 c0.8,-1.2 2,-1.8 3.8,-1.8 c-0.4,2.2 -1.8,4.2 -4.4,4.6 Z" fill="#0f7667"/><path d="M747.2,298.6 h6 l-1.2,3.2 h-3.6 Z" fill="#0f7667"/><path d="M750.2,313.8 c-2.6,-0.4 -4,-2.4 -4.4,-4.6 c1.8,0 3,0.6 3.8,1.8 c-0.4,-1.6 0,-3 0.6,-4 c0.9,1 1.3,2.4 1,4 c0.8,-1.2 2,-1.8 3.8,-1.8 c-0.4,2.2 -1.8,4.2 -4.4,4.6 Z" fill="#0f7667"/><path d="M747.2,313.6 h6 l-1.2,3.2 h-3.6 Z" fill="#0f7667"/></g><g id="dairy"><rect x="792.3" y="219.9" width="59.6" height="2.2" fill="#0f7667"/><rect x="794.6" y="222.0" width="55.2" height="5.8" fill="#6fb3a3"/><rect x="795.1" y="227.6" width="3.2" height="29.0" fill="#79b9aa"/><rect x="842.7" y="227.6" width="5.0" height="34.0" fill="#79b9aa"/><rect x="798.2" y="227.6" width="44.5" height="23.6" fill="#0d6b5d"/><rect x="801.0" y="231.2" width="39.5" height="0.8" fill="#58a292"/><rect x="801.0" y="234.6" width="39.5" height="0.8" fill="#58a292"/><rect x="801.0" y="238.0" width="39.5" height="0.8" fill="#58a292"/><rect x="801.0" y="241.4" width="39.5" height="0.8" fill="#58a292"/><rect x="801.0" y="244.8" width="39.5" height="0.8" fill="#58a292"/><rect x="801.0" y="248.2" width="39.5" height="0.8" fill="#58a292"/><rect x="799.6" y="229.0" width="1.2" height="21.0" fill="#2f8878"/><rect x="844.6" y="229.6" width="1.3" height="1.6" fill="#e4f1e8"/><rect x="844.6" y="232.7" width="1.3" height="1.6" fill="#e4f1e8"/><rect x="844.6" y="235.8" width="1.3" height="1.6" fill="#e4f1e8"/><rect x="844.6" y="238.9" width="1.3" height="1.6" fill="#e4f1e8"/><rect x="844.6" y="242.0" width="1.3" height="1.6" fill="#e4f1e8"/><rect x="844.6" y="245.1" width="1.3" height="1.6" fill="#e4f1e8"/><rect x="844.6" y="248.2" width="1.3" height="1.6" fill="#e4f1e8"/><path d="M812,255.6 C816,259.8 824,258.6 826.4,252.4 M812,255.4 H856" stroke="#2a8a78" stroke-width="0.9" fill="none"/><path d="M854.7,264.4 V251.6 C854.7,248.4 857.3,247.6 857.5,245.4 V243.8 H863.2 V245.4 C863.4,247.6 866.0,248.4 866.0,251.6 V264.4 Z" fill="#1a7c6c"/><rect x="856.5" y="242.5" width="7.7" height="1.9" rx="0.8" fill="#1a7c6c"/><path d="M855.3,249.6 q-1.6,-0.4 -1.8,-2.4 M865.4,249.6 q1.6,-0.4 1.8,-2.4" stroke="#1a7c6c" stroke-width="0.8" fill="none"/><path d="M868.8,264.4 V251.6 C868.8,248.4 871.4,247.6 871.6,245.4 V243.8 H877.3 V245.4 C877.5,247.6 880.1,248.4 880.1,251.6 V264.4 Z" fill="#1a7c6c"/><rect x="870.6" y="242.5" width="7.7" height="1.9" rx="0.8" fill="#1a7c6c"/><path d="M869.4,249.6 q-1.6,-0.4 -1.8,-2.4 M879.5,249.6 q1.6,-0.4 1.8,-2.4" stroke="#1a7c6c" stroke-width="0.8" fill="none"/><g><polygon points="775.6,249.1 777.8,245.9 780.2,244.7 780.8,242.5 782.8,242.8 783.8,244.5 786.1,244.7 789.6,243.9 801.6,244.4 807.1,245.5 810.2,247.7 811.6,251.5 811.4,256.5 810.4,256.7 810.0,252.0 809.8,256.0 809.2,260.5 810.0,266.5 806.4,266.5 805.2,261.1 803.8,257.5 802.4,257.9 797.6,258.1 792.6,257.3 792.2,261.0 792.8,266.5 790.0,266.5 789.4,261.5 788.8,266.5 786.0,266.5 786.0,261.0 785.6,256.5 783.6,253.7 781.8,250.9 778.8,251.9 776.2,251.3" fill="#0f7667"/><polygon points="788.2,245.7 793.1,244.7 798.2,245.5 800.4,253.3 795.6,256.7 790.6,256.1 787.2,251.9" fill="#fffdf4"/><polygon points="790.8,247.5 794.8,247.1 797.2,252.1 794.0,254.1" fill="#0f7667"/><polygon points="804.0,245.9 807.2,246.7 808.6,251.3 807.8,254.9 805.0,251.9" fill="#fffdf4"/><polygon points="787.2,262.0 788.6,262.0 788.4,265.7 787.0,265.7" fill="#fffdf4"/><polygon points="806.8,262.0 808.4,262.0 808.8,265.7 807.4,265.7" fill="#fffdf4"/></g></g><g id="station"><rect x="589.8" y="375.4" width="21.7" height="28.6" fill="#2a75a7"/><rect x="592.8" y="378.6" width="15.4" height="9.8" fill="#97a6c2"/><path d="M594.6,390 V400 M594.6,390.2 Q596.4,390.2 596.4,392.4 V395" stroke="#dfe8f0" stroke-width="0.7" fill="none"/></g><g id="tarrows" fill="none"><path d="M612.1,387.4 C630,378.5 648,377.4 661,379.8" stroke="#2a75a7" stroke-width="2.3"/><polygon points="668.6,381.4 660,384.6 661.8,376.2" fill="#2a75a7"/><path d="M612.1,390.4 C645,392 674,405 689.6,420" stroke="#2a75a7" stroke-width="2.3"/><polygon points="695.6,425.6 686.4,423.4 692.6,416.8" fill="#2a75a7"/><path d="M631.6,443 C621,434.6 603,432 588,435.6" stroke="#0f7667" stroke-width="2.2"/><polygon points="580.4,437.6 588.4,430.8 590,440" fill="#0f7667"/></g><g id="fcv"><path d="M713.7,392.0 C715.1,390.0 715.1,387.6 712.3,386.3 C708.1,384.8 703.4,384.1 700.2,383.5 C696.0,380.2 691.3,378.6 685.7,378.6 C681.0,378.6 678.3,380.6 674.1,383.5 C670.3,384.0 668.0,385.1 668.0,387.6 L668.7,391.6 C671.7,392.6 672.7,394.9 677.3,394.9 L678.3,394.9 C681.0,394.9 682.0,393.3 683.8,392.9 L699.2,393.3 Z" fill="#2a75a7"/><path d="M699.2,393.3 C700.6,394.9 702.0,394.9 704.3,394.9 L705.3,394.9 C708.1,394.9 709.0,393.6 709.9,392.6 Z" fill="#2a75a7"/><path d="M713.7,392.0 L698.8,393.3 L709.9,388.4 Z" fill="#2a75a7"/><path d="M696.9,383.5 C694.1,381.5 690.8,380.6 686.6,380.4 L686.6,383.5 L696.9,383.5 Z" fill="#fdf0d6"/><path d="M685.2,380.4 L683.8,380.4 C681.5,380.9 679.6,382.2 677.8,383.5 L685.2,383.5 Z" fill="#fdf0d6"/><path d="M712.3,387.7 L708.5,387.1 L709.0,389.4 Z" fill="#fdf0d6"/><path d="M699.9,392.3 A4.9,4.9 0 0 1 709.7,392.3" stroke="#fdf0d6" stroke-width="0.6" fill="none" opacity="0.3"/><path d="M672.4,392.3 A4.9,4.9 0 0 1 682.2,392.3" stroke="#fdf0d6" stroke-width="0.6" fill="none" opacity="0.3"/></g><g id="bus"><path d="M699.3,416 Q699.3,412.2 703,411.8 L731,411.2 L746.6,419.6 Q748.1,420.4 748.1,422 V436 Q748.1,437.4 746.8,438 L733.8,444.4 L702.4,445.4 Q699.3,445.4 699.3,442.4 Z" fill="#2a75a7"/><path d="M702.8,417.2 Q702.8,416 704,415.9 L722.6,415 Q724.2,415 724.2,416.4 V428.4 L702.8,428.6 Z" fill="#fdf0d6"/><path d="M734,412.4 V444 M737,416.4 L746,421.6 V430.6 L737,431.6 Z" stroke="#1f6492" stroke-width="0.7" fill="none"/><path d="M702.4,447 h5.2 v-2.2 h-5.2 Z M726.6,446.2 h5.4 v-2.2 h-5.4 Z M740.4,442.6 l3.6,-1.8 v-2.4 l-3.6,1.8 Z" fill="#2a75a7"/><ellipse cx="702.9" cy="439" rx="1.5" ry="1.2" fill="#fdf0d6"/><ellipse cx="721.7" cy="439.3" rx="1.5" ry="1.2" fill="#fdf0d6"/></g><path d="M748.7,360.4 V387.7" stroke="#b3a384" stroke-width="1.5" fill="none"/><rect x="739.9" y="363.2" width="7.2" height="7" fill="none" stroke="#b3a384" stroke-width="0.9"/><path d="M743.5,363.2 v7" stroke="#b3a384" stroke-width="0.7"/><path d="M660.2,422.5 V448.9" stroke="#b3a384" stroke-width="1.5" fill="none"/><rect x="661.8" y="425.3" width="7.2" height="7" fill="none" stroke="#b3a384" stroke-width="0.9"/><path d="M665.4,425.3 v7" stroke="#b3a384" stroke-width="0.7"/><g id="ev"><path d="M539.8,451.6 C538.4,449.7 538.4,447.3 541.3,446.1 C545.5,444.6 550.2,444.0 553.5,443.4 C557.7,440.2 562.4,438.6 568.1,438.6 C572.8,438.6 575.6,440.5 579.9,443.4 C583.6,443.8 586.0,445.0 586.0,447.3 L585.3,451.3 C582.2,452.3 581.3,454.5 576.6,454.5 L575.6,454.5 C572.8,454.5 571.9,452.9 570.0,452.6 L554.4,452.9 Z" fill="#0f7667"/><path d="M554.4,452.9 C553.0,454.5 551.6,454.5 549.3,454.5 L548.3,454.5 C545.5,454.5 544.6,453.2 543.6,452.3 Z" fill="#0f7667"/><path d="M539.8,451.6 L554.9,452.9 L543.6,448.1 Z" fill="#0f7667"/><path d="M556.8,443.4 C559.6,441.5 562.9,440.5 567.2,440.3 L567.2,443.4 L556.8,443.4 Z" fill="#fdf0d6"/><path d="M568.6,440.3 L570.0,440.3 C572.3,440.8 574.2,442.1 576.1,443.4 L568.6,443.4 Z" fill="#fdf0d6"/><path d="M541.3,447.5 L545.0,446.9 L544.6,449.1 Z" fill="#fdf0d6"/><path d="M544.0,452.0 A4.8,4.8 0 0 1 553.6,452.0" stroke="#fdf0d6" stroke-width="0.6" fill="none" opacity="0.3"/><path d="M571.8,452.0 A4.8,4.8 0 0 1 581.3,452.0" stroke="#fdf0d6" stroke-width="0.6" fill="none" opacity="0.3"/><polygon points="582.4,444.5 580.0,447.9 581.6,447.9 580.9,450.5 583.4,446.9 581.9,446.9" fill="#fdf0d6"/></g><g id="charger"><rect x="631.3" y="435.8" width="12.2" height="28.8" fill="#0f7667"/><rect x="634.2" y="440.6" width="6.6" height="4.6" fill="#5fa596"/><polygon points="638.8,448.8 634.6,455.4 637.2,455.4 636,461.2 640.8,453.4 638,453.4" fill="#fdf0d6"/><path d="M601.6,457 V463.8 H626 V452.3 H631.5" stroke="#0f7667" stroke-width="1.2" fill="none"/><path d="M598.7,451 h6 v3.6 q0,2.8 -3,2.8 q-3,0 -3,-2.8 Z" fill="#0f7667"/><path d="M600.1,451.2 v-3.2 M603.3,451.2 v-3.2" stroke="#0f7667" stroke-width="1"/></g><g id="plane" fill="#2a75a7"><path d="M883.6,360.1 C882.5,358.6 879,358.6 874,360.2 L859.4,366.1 L856.9,364.6 L855.6,365.3 L856.2,366.6 L844.2,362.9 L842.8,362.2 L841.6,362.8 L842,363.8 L823.4,359.0 L822.1,360.1 L825.2,361.8 L844.6,371.7 L838.3,375.7 L830.2,377.7 L825.2,376.2 L823.1,376.4 L818.6,379.2 L820.1,380.7 L824.2,383.3 L826.7,386.8 L829.7,385.8 L831.7,383.3 L838.3,381.3 L849.4,378.2 L854.4,377.2 L857.0,392.3 L859.9,391.8 L861.2,388 L864,386.6 L865.6,385.2 L864.6,383.6 L862.4,384 L863.6,379.6 L866.6,379.4 L868.2,378.4 L867.4,376.9 L865.2,376.6 L865.5,375.7 L873.5,371.2 C879,367.6 883.6,363.6 883.6,360.1 Z"/></g><g id="train"><path d="M795.4,396 Q803,393.6 818,395.4 L826,399.4 L846.6,413.6 Q848.6,415.6 846.6,417.6 L821,430.4 L796,430.4 Q791.3,430.4 791.3,425.4 V401 Q791.3,397.2 795.4,396 Z" fill="#0f7667"/><rect x="793.2" y="407" width="6.7" height="5.8" fill="#fdf0d6"/><rect x="801.8" y="404.2" width="6.7" height="15.3" fill="#fdf0d6"/><rect x="811.4" y="407" width="6.7" height="5.8" fill="#fdf0d6"/><rect x="793.2" y="403.8" width="6.7" height="1.3" fill="#fdf0d6"/><rect x="811.4" y="403.8" width="6.7" height="1.3" fill="#fdf0d6"/><path d="M821,406.6 L829.6,408.8 V414 L821,412.8 Z M832.4,410.2 L840.1,412.6 V415 L832.4,414.4 Z M842,413.4 L845.5,414.6 V415.6 L842,415.4 Z" fill="#fdf0d6"/><circle cx="802.8" cy="397.6" r="0.9" fill="#fdf0d6"/><circle cx="807.6" cy="397.6" r="0.9" fill="#fdf0d6"/><circle cx="794.6" cy="424.4" r="0.75" fill="#fdf0d6"/><circle cx="797.6" cy="424.4" r="0.75" fill="#fdf0d6"/><circle cx="802.6" cy="424.4" r="0.75" fill="#fdf0d6"/><circle cx="805.6" cy="424.4" r="0.75" fill="#fdf0d6"/><circle cx="808.6" cy="424.4" r="0.75" fill="#fdf0d6"/><circle cx="813.2" cy="424.4" r="0.75" fill="#fdf0d6"/><circle cx="816.2" cy="424.4" r="0.75" fill="#fdf0d6"/><path d="M799.9,430 L784.6,435.4 L789.6,436 L806,430.4 Z M816.2,430.4 L800.9,435.8 L806,436.4 L822,430.4 Z" fill="#0f7667"/></g><g id="shipR" fill="#2a75a7"><path d="M807.6,460.7 C830,458 856,451.6 875.6,444.4 L876.4,441.4 L878.4,441 L878.6,437.4 L881,436.7 L890.9,436.9 L892,440.4 L894.6,441.6 L897.6,447.3 C897.4,451 895.6,453.4 893.8,454.9 C876,462.6 856,468.4 838.2,469.8 C828,470.6 818,470.8 810.8,470.2 L809.4,466.8 L811,465.8 Z"/><path d="M817.6,459.6 L817.8,442.5 L818.6,442.5 L819.4,459.2 Z M884.0,437 L884.3,426.2 L884.9,426.2 L885.6,437 Z"/></g>
</svg>
<div class="t" id="t0" style="left:50.19px;top:27.84px;font-size:15.38px;line-height:15.38px;letter-spacing:0.82px;color:#fff;font-weight:bold;-webkit-text-stroke:0.2px #fff;">供給サイド</div>
<div class="t" id="t1" style="left:567.68px;top:28.52px;font-size:16.13px;line-height:16.13px;letter-spacing:-0.05px;color:#fff;font-weight:bold;-webkit-text-stroke:0.2px #fff;">需要サイド</div>
<div class="t" id="t2" style="left:186.78px;top:15.67px;font-size:10.86px;line-height:10.86px;letter-spacing:1.20px;color:#231f20;font-weight:bold;-webkit-text-stroke:0.2px #231f20;">非化石電源の導入拡大</div>
<div class="t" id="t3" style="left:186.80px;top:30.39px;font-size:10.22px;line-height:10.22px;letter-spacing:1.96px;color:#231f20;font-weight:bold;-webkit-text-stroke:0.2px #231f20;">火力のCO<span class="s2">2</span>フリー化</div>
<div class="t" id="t4" style="left:187.39px;top:44.49px;font-size:10.32px;line-height:10.32px;letter-spacing:2.04px;color:#231f20;font-weight:bold;-webkit-text-stroke:0.2px #231f20;">CO<span class="s2">2</span>フリー電気を活用した水素製造</div>
<div class="t" id="t5" style="left:705.50px;top:17.90px;font-size:10.11px;line-height:10.11px;letter-spacing:2.05px;color:#231f20;font-weight:bold;-webkit-text-stroke:0.2px #231f20;">各部門における電化拡大</div>
<div class="t" id="t6" style="left:705.99px;top:31.49px;font-size:10.43px;line-height:10.43px;letter-spacing:1.65px;color:#231f20;font-weight:bold;-webkit-text-stroke:0.2px #231f20;">CO<span class="s2">2</span>フリー水素の利活用</div>
<div class="t" id="t7" style="left:705.49px;top:45.39px;font-size:10.43px;line-height:10.43px;letter-spacing:2.08px;color:#231f20;font-weight:bold;-webkit-text-stroke:0.2px #231f20;">化石燃料からのエネルギー転換</div>
<div class="t" id="t8" style="left:100.40px;top:81.30px;font-size:10.00px;line-height:10.00px;letter-spacing:2.60px;color:#15875b;font-weight:bold;-webkit-text-stroke:0.2px #15875b;">風力</div>
<div class="t" id="t9" style="left:234.60px;top:81.20px;font-size:10.00px;line-height:10.00px;letter-spacing:2.65px;color:#15875b;font-weight:bold;-webkit-text-stroke:0.2px #15875b;">太陽光</div>
<div class="t" id="t10" style="left:346.00px;top:81.20px;font-size:10.00px;line-height:10.00px;letter-spacing:1.80px;color:#15875b;font-weight:bold;-webkit-text-stroke:0.2px #15875b;">水力</div>
<div class="t" id="t11" style="left:52.93px;top:148.75px;font-size:8.30px;line-height:8.30px;letter-spacing:2.11px;color:#333333;-webkit-text-stroke:0.2px #333333;">洋上</div>
<div class="t" id="t12" style="left:141.33px;top:148.75px;font-size:8.30px;line-height:8.30px;letter-spacing:1.41px;color:#333333;-webkit-text-stroke:0.2px #333333;">陸上</div>
<div class="t" id="t13" style="left:179.60px;top:175.45px;font-size:15.05px;line-height:15.05px;letter-spacing:-0.21px;color:#fff;font-weight:bold;-webkit-text-stroke:0.2px #fff;">北海道の系統</div>
<div class="t" id="t14" style="left:161.37px;top:207.85px;font-size:11.51px;line-height:11.51px;letter-spacing:-0.56px;color:#15875b;font-weight:bold;-webkit-text-stroke:0.2px #15875b;">蓄電池</div>
<div class="t" id="t15" style="left:212.28px;top:260.74px;font-size:10.97px;line-height:10.97px;letter-spacing:0.95px;color:#231f20;font-weight:bold;-webkit-text-stroke:0.2px #231f20;">VPP</div>
<div class="t" id="t16" style="left:337.48px;top:178.27px;font-size:10.97px;line-height:10.97px;letter-spacing:0.66px;color:#15875b;font-weight:bold;-webkit-text-stroke:0.2px #15875b;">バイオマス</div>
<div class="t" id="t17" style="left:322.94px;top:240.96px;font-size:8.09px;line-height:8.09px;letter-spacing:1.57px;color:#333333;-webkit-text-stroke:0.2px #333333;">農畜産系</div>
<div class="t" id="t18" style="left:377.44px;top:240.96px;font-size:8.09px;line-height:8.09px;letter-spacing:1.80px;color:#333333;-webkit-text-stroke:0.2px #333333;">木質系</div>
<div class="t" id="t19" style="left:312.47px;top:267.66px;font-size:11.40px;line-height:11.40px;letter-spacing:2.17px;color:#15875b;font-weight:bold;-webkit-text-stroke:0.2px #15875b;">地熱</div>
<div class="t" id="t20" style="left:33.37px;top:202.96px;font-size:11.40px;line-height:11.40px;letter-spacing:3.02px;color:#2b2b2b;font-weight:bold;-webkit-text-stroke:0.2px #2b2b2b;">本州との</div>
<div class="t" id="t21" style="left:33.37px;top:225.95px;font-size:11.72px;line-height:11.72px;letter-spacing:2.24px;color:#2b2b2b;font-weight:bold;-webkit-text-stroke:0.2px #2b2b2b;">連系線</div>
<div class="t" id="t22" style="left:19.85px;top:245.77px;font-size:7.66px;line-height:7.66px;letter-spacing:0.08px;color:#231f20;-webkit-text-stroke:0.2px #231f20;">水素を道外へ</div>
<div class="t" id="t23" style="left:19.84px;top:254.67px;font-size:7.77px;line-height:7.77px;letter-spacing:-0.08px;color:#231f20;-webkit-text-stroke:0.2px #231f20;">移出し、日本全体の</div>
<div class="t" id="t24" style="left:19.84px;top:263.57px;font-size:7.77px;line-height:7.77px;letter-spacing:0.01px;color:#231f20;-webkit-text-stroke:0.2px #231f20;">脱炭素化にも貢献</div>
<div class="t" id="t25" style="left:107.69px;top:245.38px;font-size:10.65px;line-height:10.65px;letter-spacing:1.32px;color:#15875b;font-weight:bold;-webkit-text-stroke:0.2px #15875b;">原子力</div>
<div class="t" id="t26" style="left:26.68px;top:303.77px;font-size:10.86px;line-height:10.86px;letter-spacing:1.02px;color:#2b78b2;font-weight:bold;-webkit-text-stroke:0.2px #2b78b2;">道外へ</div>
<div class="t" id="t27" style="left:32.98px;top:317.87px;font-size:10.86px;line-height:10.86px;letter-spacing:0.74px;color:#2b78b2;font-weight:bold;-webkit-text-stroke:0.2px #2b78b2;">移出</div>
<div class="t" id="t28" style="left:100.73px;top:309.74px;font-size:8.72px;line-height:8.72px;letter-spacing:-0.90px;color:#231f20;-webkit-text-stroke:0.2px #231f20;">CO<span class="s2">2</span>フリー電気から</div>
<div class="t" id="t29" style="left:100.73px;top:320.35px;font-size:8.30px;line-height:8.30px;letter-spacing:0.08px;color:#231f20;-webkit-text-stroke:0.2px #231f20;">水素を製造</div>
<div class="t" id="t30" style="left:104.62px;top:374.13px;font-size:8.94px;line-height:8.94px;letter-spacing:0.18px;color:#231f20;-webkit-text-stroke:0.2px #231f20;">CO<span class="s2">2</span>を地中貯留</div>
<div class="t" id="t31" style="left:119.99px;top:396.69px;font-size:10.32px;line-height:10.32px;letter-spacing:1.68px;color:#2b78b2;font-weight:bold;-webkit-text-stroke:0.2px #2b78b2;">水素 H<span class="s2">2</span></div>
<div class="t" id="t32" style="left:237.59px;top:304.19px;font-size:10.43px;line-height:10.43px;letter-spacing:2.72px;color:#15875b;font-weight:bold;-webkit-text-stroke:0.2px #15875b;">火力</div>
<div class="t" id="t33" style="left:192.03px;top:344.34px;font-size:8.72px;line-height:8.72px;letter-spacing:0.35px;color:#231f20;-webkit-text-stroke:0.2px #231f20;">燃料混焼＋CCUS</div>
<div class="t" id="t34" style="left:193.22px;top:355.13px;font-size:9.04px;line-height:9.04px;letter-spacing:0.43px;color:#231f20;-webkit-text-stroke:0.2px #231f20;">・水素</div>
<div class="t" id="t35" style="left:193.22px;top:365.73px;font-size:8.94px;line-height:8.94px;letter-spacing:0.29px;color:#231f20;-webkit-text-stroke:0.2px #231f20;">・アンモニア</div>
<div class="t" id="t36" style="left:193.22px;top:376.93px;font-size:8.94px;line-height:8.94px;letter-spacing:0.29px;color:#231f20;-webkit-text-stroke:0.2px #231f20;">・バイオマス</div>
<div class="t" id="t37" style="left:350.12px;top:349.74px;font-size:8.83px;line-height:8.83px;letter-spacing:0.30px;color:#231f20;-webkit-text-stroke:0.2px #231f20;">CO<span class="s2">2</span>+H<span class="s2">2</span>利用</div>
<div class="t" id="t38" style="left:348.47px;top:359.80px;font-size:6.60px;line-height:6.60px;letter-spacing:-0.78px;color:#231f20;-webkit-text-stroke:0.2px #231f20;">（メタネーション）</div>
<div class="t" id="t39" style="left:158.73px;top:451.34px;font-size:8.51px;line-height:8.51px;letter-spacing:-0.67px;color:#333333;-webkit-text-stroke:0.2px #333333;">製造</div>
<div class="t" id="t40" style="left:126.24px;top:461.96px;font-size:8.09px;line-height:8.09px;letter-spacing:-0.59px;color:#333333;-webkit-text-stroke:0.2px #333333;">（CO<span class="s2">2</span>フリー電気活用）</div>
<div class="t" id="t41" style="left:271.83px;top:451.24px;font-size:8.72px;line-height:8.72px;letter-spacing:0.14px;color:#333333;-webkit-text-stroke:0.2px #333333;">貯蔵</div>
<div class="t" id="t42" style="left:362.63px;top:419.24px;font-size:8.72px;line-height:8.72px;letter-spacing:0.24px;color:#333333;-webkit-text-stroke:0.2px #333333;">輸送</div>
<div class="t" id="t43" style="left:441.56px;top:177.54px;font-size:12.04px;line-height:12.04px;letter-spacing:-0.18px;color:#fff;font-weight:bold;-webkit-text-stroke:0.2px #fff;">CO<span class="s2">2</span>フリー</div>
<div class="t" id="t44" style="left:460.46px;top:192.44px;font-size:12.15px;line-height:12.15px;letter-spacing:0.61px;color:#fff;font-weight:bold;-webkit-text-stroke:0.2px #fff;">電気</div>
<div class="t" id="t45" style="left:439.35px;top:352.23px;font-size:12.26px;line-height:12.26px;letter-spacing:-0.10px;color:#fff;font-weight:bold;-webkit-text-stroke:0.2px #fff;">CO<span class="s2">2</span>フリー</div>
<div class="t" id="t46" style="left:458.44px;top:367.21px;font-size:13.12px;line-height:13.12px;letter-spacing:0.06px;color:#fff;font-weight:bold;-webkit-text-stroke:0.2px #fff;">水素</div>
<div class="t" id="t47" style="left:542.28px;top:69.47px;font-size:10.86px;line-height:10.86px;letter-spacing:0.67px;color:#111;font-weight:bold;-webkit-text-stroke:0.2px #111;">家庭・業務部門</div>
<div class="t" id="t48" style="left:542.28px;top:209.47px;font-size:10.86px;line-height:10.86px;letter-spacing:1.05px;color:#111;font-weight:bold;-webkit-text-stroke:0.2px #111;">産業部門</div>
<div class="t" id="t49" style="left:542.28px;top:348.87px;font-size:11.08px;line-height:11.08px;letter-spacing:0.82px;color:#111;font-weight:bold;-webkit-text-stroke:0.2px #111;">運輸部門</div>
<div class="t" id="t50" style="left:566.43px;top:124.34px;font-size:8.51px;line-height:8.51px;letter-spacing:0.31px;color:#333333;-webkit-text-stroke:0.2px #333333;">商業施設</div>
<div class="t" id="t51" style="left:674.83px;top:130.94px;font-size:8.72px;line-height:8.72px;letter-spacing:0.04px;color:#333333;-webkit-text-stroke:0.2px #333333;">家庭</div>
<div class="t" id="t52" style="left:819.74px;top:136.16px;font-size:8.09px;line-height:8.09px;letter-spacing:0.90px;color:#333333;-webkit-text-stroke:0.2px #333333;">ホテル</div>
<div class="t" id="t53" style="left:576.03px;top:184.34px;font-size:8.72px;line-height:8.72px;letter-spacing:-0.66px;color:#333333;-webkit-text-stroke:0.2px #333333;">病院</div>
<div class="t" id="t54" style="left:714.43px;top:188.74px;font-size:8.72px;line-height:8.72px;letter-spacing:1.34px;color:#333333;-webkit-text-stroke:0.2px #333333;">学校</div>
<div class="t" id="t55" style="left:795.68px;top:151.97px;font-size:11.08px;line-height:11.08px;letter-spacing:1.49px;color:#231f20;font-weight:bold;-webkit-text-stroke:0.2px #231f20;">太陽光発電</div>
<div class="t" id="t56" style="left:795.68px;top:165.87px;font-size:11.08px;line-height:11.08px;letter-spacing:1.31px;color:#231f20;font-weight:bold;-webkit-text-stroke:0.2px #231f20;">スマート電化</div>
<div class="t" id="t57" style="left:795.68px;top:179.97px;font-size:11.08px;line-height:11.08px;letter-spacing:1.42px;color:#231f20;font-weight:bold;-webkit-text-stroke:0.2px #231f20;">燃料電池</div>
<div class="t" id="t58" style="left:596.92px;top:268.24px;font-size:8.83px;line-height:8.83px;letter-spacing:-0.18px;color:#333333;-webkit-text-stroke:0.2px #333333;">水産業</div>
<div class="t" id="t59" style="left:662.52px;top:266.94px;font-size:8.83px;line-height:8.83px;letter-spacing:-0.56px;color:#333333;-webkit-text-stroke:0.2px #333333;">農業</div>
<div class="t" id="t60" style="left:794.42px;top:268.53px;font-size:8.94px;line-height:8.94px;letter-spacing:0.05px;color:#333333;-webkit-text-stroke:0.2px #333333;">酪農</div>
<div class="t" id="t61" style="left:581.22px;top:325.94px;font-size:8.83px;line-height:8.83px;letter-spacing:-0.56px;color:#333333;-webkit-text-stroke:0.2px #333333;">工場</div>
<div class="t" id="t62" style="left:688.72px;top:325.94px;font-size:8.83px;line-height:8.83px;letter-spacing:0.15px;color:#333333;-webkit-text-stroke:0.2px #333333;">植物工場</div>
<div class="t" id="t63" style="left:785.68px;top:299.27px;font-size:10.97px;line-height:10.97px;letter-spacing:1.24px;color:#231f20;font-weight:bold;-webkit-text-stroke:0.2px #231f20;">バイオマス利用</div>
<div class="t" id="t64" style="left:785.68px;top:312.47px;font-size:10.97px;line-height:10.97px;letter-spacing:1.33px;color:#231f20;font-weight:bold;-webkit-text-stroke:0.2px #231f20;">ヒートポンプ</div>
<div class="t" id="t65" style="left:565.62px;top:408.33px;font-size:9.15px;line-height:9.15px;letter-spacing:0.28px;color:#333333;-webkit-text-stroke:0.2px #333333;">水素ステーション</div>
<div class="t" id="t66" style="left:682.62px;top:397.09px;font-size:8.84px;line-height:8.84px;letter-spacing:-0.46px;color:#333333;-webkit-text-stroke:0.2px #333333;">FCV</div>
<div class="t" id="t67" style="left:690.82px;top:451.13px;font-size:9.15px;line-height:9.15px;letter-spacing:0.16px;color:#333333;-webkit-text-stroke:0.2px #333333;">FCバス・トラック</div>
<div class="t" id="t68" style="left:559.63px;top:455.63px;font-size:8.55px;line-height:8.55px;letter-spacing:-0.88px;color:#333333;-webkit-text-stroke:0.2px #333333;">EV</div>
<div class="t" id="t69" style="left:598.82px;top:468.93px;font-size:8.94px;line-height:8.94px;letter-spacing:0.29px;color:#333333;-webkit-text-stroke:0.2px #333333;">急速充電器</div>
</body>
</html>
